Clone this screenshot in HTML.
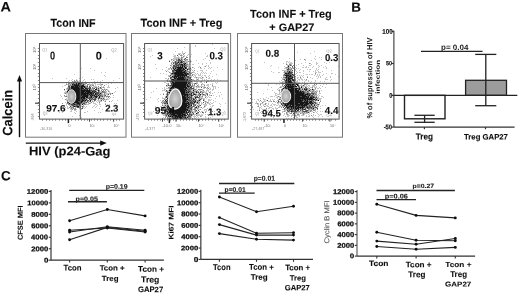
<!DOCTYPE html>
<html><head><meta charset="utf-8"><style>
html,body{margin:0;padding:0;background:#fff;}
body{width:520px;height:299px;overflow:hidden;}
svg{display:block;font-family:"Liberation Sans", sans-serif;}
</style></head><body>
<svg width="520" height="299" viewBox="0 0 520 299">
<defs><filter id="soft" x="-5%" y="-5%" width="110%" height="110%"><feGaussianBlur stdDeviation="0.35"/></filter><filter id="g" x="0" y="0" width="520" height="299" filterUnits="userSpaceOnUse"><feGaussianBlur stdDeviation="0.3"/></filter><radialGradient id="ov"><stop offset="0" stop-color="#d2d2d2"/><stop offset="1" stop-color="#a0a0a0"/></radialGradient></defs>
<rect width="520" height="299" fill="#fff"/>
<g filter="url(#g)">
<text x="0" y="0" font-size="13.802" font-weight="bold" fill="#111" textLength="10.465" lengthAdjust="spacingAndGlyphs" transform="translate(0.405,11.615) rotate(0.05)" stroke="#111" stroke-width="0.1" >A</text>
<text x="0" y="0" font-size="13.567" font-weight="bold" fill="#111" textLength="9.696" lengthAdjust="spacingAndGlyphs" transform="translate(351.262,11.643) rotate(0.05)" stroke="#111" stroke-width="0.1" >B</text>
<text x="0" y="0" font-size="13.213" font-weight="bold" fill="#111" textLength="9.784" lengthAdjust="spacingAndGlyphs" transform="translate(0.994,180.201) rotate(0.05)" stroke="#111" stroke-width="0.1" >C</text>
<text x="0" y="0" font-size="11.423" font-weight="bold" fill="#111" textLength="45.068" lengthAdjust="spacingAndGlyphs" transform="translate(50.593,26.856) rotate(0.05)" stroke="#111" stroke-width="0.1" >Tcon INF</text>
<text x="0" y="0" font-size="11.511" font-weight="bold" fill="#111" textLength="81.792" lengthAdjust="spacingAndGlyphs" transform="translate(140.552,26.779) rotate(0.05)" stroke="#111" stroke-width="0.1" >Tcon INF + Treg</text>
<text x="0" y="0" font-size="11.391" font-weight="bold" fill="#111" textLength="81.647" lengthAdjust="spacingAndGlyphs" transform="translate(250.102,17.652) rotate(0.05)" stroke="#111" stroke-width="0.1" >Tcon INF + Treg</text>
<text x="0" y="0" font-size="10.768" font-weight="bold" fill="#111" textLength="45.071" lengthAdjust="spacingAndGlyphs" transform="translate(269.350,30.868) rotate(0.05)" stroke="#111" stroke-width="0.1" >+ GAP27</text>
<rect x="25.5" y="33.5" width="100.5" height="103.69999999999999" stroke="#777" stroke-width="1" fill="none"/>
<g filter="url(#soft)">
<path d="M106 58h1v1h-1zM81 68h1v1h-1zM90 68h1v1h-1zM94 70h1v1h-1zM101 72h1v1h-1zM105 72h1v1h-1zM74 74h1v1h-1zM104 75h1v1h-1zM105 76h1v1h-1zM82 77h1v1h-1zM52 78h1v1h-1zM66 78h1v1h-1zM79 78h1v1h-1zM119 78h1v1h-1zM72 79h1v1h-1zM76 79h1v1h-1zM84 79h1v1h-1zM91 79h1v1h-1zM93 79h1v1h-1zM69 80h1v1h-1zM71 80h1v1h-1zM77 80h1v1h-1zM79 80h1v1h-1zM83 80h1v1h-1zM102 80h1v1h-1zM113 80h1v1h-1zM68 81h1v1h-1zM73 81h1v1h-1zM76 81h1v1h-1zM78 81h3v1h-3zM82 81h1v1h-1zM85 81h1v1h-1zM94 81h1v1h-1zM97 81h1v1h-1zM100 81h1v1h-1zM71 82h2v1h-2zM78 82h1v1h-1zM82 82h1v1h-1zM85 82h4v1h-4zM92 82h5v1h-5zM102 82h2v1h-2zM66 83h1v1h-1zM70 83h1v1h-1zM84 83h1v1h-1zM89 83h1v1h-1zM92 83h1v1h-1zM94 83h2v1h-2zM100 83h1v1h-1zM108 83h1v1h-1zM111 83h1v1h-1zM67 84h1v1h-1zM69 84h1v1h-1zM71 84h1v1h-1zM85 84h1v1h-1zM89 84h5v1h-5zM95 84h1v1h-1zM97 84h4v1h-4zM106 84h1v1h-1zM64 85h2v1h-2zM84 85h3v1h-3zM89 85h1v1h-1zM91 85h1v1h-1zM95 85h1v1h-1zM100 85h2v1h-2zM108 85h1v1h-1zM62 86h1v1h-1zM70 86h1v1h-1zM90 86h2v1h-2zM93 86h4v1h-4zM101 86h1v1h-1zM103 86h1v1h-1zM108 86h1v1h-1zM67 87h1v1h-1zM88 87h1v1h-1zM93 87h2v1h-2zM97 87h3v1h-3zM101 87h2v1h-2zM104 87h1v1h-1zM107 87h3v1h-3zM117 87h1v1h-1zM66 88h1v1h-1zM84 88h1v1h-1zM91 88h1v1h-1zM97 88h1v1h-1zM99 88h1v1h-1zM104 88h1v1h-1zM115 88h1v1h-1zM66 89h2v1h-2zM88 89h1v1h-1zM92 89h1v1h-1zM97 89h1v1h-1zM99 89h1v1h-1zM101 89h1v1h-1zM103 89h1v1h-1zM105 89h1v1h-1zM107 89h1v1h-1zM64 90h1v1h-1zM96 90h1v1h-1zM107 90h2v1h-2zM65 91h2v1h-2zM100 91h2v1h-2zM105 91h2v1h-2zM109 91h1v1h-1zM115 91h1v1h-1zM64 92h2v1h-2zM100 92h1v1h-1zM106 92h1v1h-1zM109 92h1v1h-1zM114 92h1v1h-1zM64 93h1v1h-1zM66 93h1v1h-1zM94 93h1v1h-1zM102 93h1v1h-1zM105 93h5v1h-5zM111 93h1v1h-1zM66 94h1v1h-1zM102 94h2v1h-2zM105 94h3v1h-3zM60 95h1v1h-1zM66 95h1v1h-1zM103 95h1v1h-1zM107 95h1v1h-1zM113 95h1v1h-1zM61 96h1v1h-1zM64 96h1v1h-1zM98 96h1v1h-1zM103 96h1v1h-1zM105 96h1v1h-1zM97 97h1v1h-1zM100 97h5v1h-5zM106 97h1v1h-1zM110 97h1v1h-1zM113 97h1v1h-1zM62 98h1v1h-1zM66 98h1v1h-1zM93 98h1v1h-1zM96 98h2v1h-2zM102 98h1v1h-1zM104 98h1v1h-1zM107 98h1v1h-1zM109 98h1v1h-1zM66 99h1v1h-1zM87 99h1v1h-1zM96 99h1v1h-1zM100 99h2v1h-2zM103 99h1v1h-1zM105 99h1v1h-1zM107 99h2v1h-2zM66 100h1v1h-1zM89 100h1v1h-1zM91 100h2v1h-2zM97 100h4v1h-4zM105 100h1v1h-1zM112 100h1v1h-1zM117 100h1v1h-1zM86 101h1v1h-1zM88 101h1v1h-1zM93 101h2v1h-2zM96 101h1v1h-1zM98 101h4v1h-4zM104 101h1v1h-1zM111 101h1v1h-1zM65 102h1v1h-1zM87 102h1v1h-1zM90 102h1v1h-1zM93 102h1v1h-1zM97 102h1v1h-1zM66 103h1v1h-1zM85 103h2v1h-2zM88 103h1v1h-1zM90 103h1v1h-1zM93 103h3v1h-3zM99 103h1v1h-1zM105 103h1v1h-1zM114 103h1v1h-1zM116 103h1v1h-1zM66 104h1v1h-1zM80 104h2v1h-2zM83 104h1v1h-1zM86 104h3v1h-3zM95 104h2v1h-2zM99 104h2v1h-2zM109 104h1v1h-1zM64 105h1v1h-1zM66 105h1v1h-1zM69 105h2v1h-2zM81 105h1v1h-1zM94 105h1v1h-1zM97 105h1v1h-1zM67 106h1v1h-1zM71 106h2v1h-2zM80 106h2v1h-2zM83 106h2v1h-2zM86 106h1v1h-1zM93 106h1v1h-1zM96 106h1v1h-1zM100 106h1v1h-1zM115 106h1v1h-1zM65 107h1v1h-1zM67 107h1v1h-1zM70 107h1v1h-1zM75 107h2v1h-2zM80 107h1v1h-1zM83 107h1v1h-1zM85 107h1v1h-1zM92 107h1v1h-1zM95 107h1v1h-1zM67 108h2v1h-2zM70 108h1v1h-1zM72 108h1v1h-1zM74 108h1v1h-1zM79 108h1v1h-1zM84 108h1v1h-1zM99 108h1v1h-1zM61 109h1v1h-1zM70 109h2v1h-2zM76 109h1v1h-1zM81 109h1v1h-1zM102 109h1v1h-1zM71 110h1v1h-1zM74 110h2v1h-2zM94 110h1v1h-1zM107 110h1v1h-1zM70 111h2v1h-2zM76 111h1v1h-1zM87 111h1v1h-1zM59 112h1v1h-1zM62 112h1v1h-1zM74 112h1v1h-1zM84 112h2v1h-2zM98 112h1v1h-1zM100 112h1v1h-1zM75 113h1v1h-1zM80 114h1v1h-1zM79 115h1v1h-1zM72 116h1v1h-1zM81 117h1v1h-1zM80 118h1v1h-1zM94 118h1v1h-1z" fill="#c4c4c4"/>
<path d="M74 80h1v1h-1zM76 80h1v1h-1zM72 81h1v1h-1zM74 81h2v1h-2zM77 81h1v1h-1zM74 82h1v1h-1zM76 82h1v1h-1zM79 82h3v1h-3zM83 82h2v1h-2zM68 83h2v1h-2zM71 83h2v1h-2zM74 83h2v1h-2zM77 83h1v1h-1zM82 83h2v1h-2zM85 83h2v1h-2zM66 84h1v1h-1zM68 84h1v1h-1zM70 84h1v1h-1zM81 84h2v1h-2zM84 84h1v1h-1zM87 84h2v1h-2zM101 84h2v1h-2zM68 85h4v1h-4zM87 85h1v1h-1zM90 85h1v1h-1zM92 85h2v1h-2zM104 85h1v1h-1zM85 86h2v1h-2zM98 86h1v1h-1zM68 87h1v1h-1zM70 87h1v1h-1zM83 87h1v1h-1zM86 87h2v1h-2zM92 87h1v1h-1zM95 87h2v1h-2zM103 87h1v1h-1zM67 88h2v1h-2zM70 88h1v1h-1zM92 88h2v1h-2zM100 88h2v1h-2zM90 89h2v1h-2zM93 89h1v1h-1zM98 89h1v1h-1zM102 89h1v1h-1zM104 89h1v1h-1zM106 89h1v1h-1zM67 90h1v1h-1zM92 90h1v1h-1zM95 90h1v1h-1zM97 90h1v1h-1zM99 90h1v1h-1zM101 90h1v1h-1zM103 90h1v1h-1zM105 90h1v1h-1zM91 91h1v1h-1zM96 91h1v1h-1zM99 91h1v1h-1zM103 91h2v1h-2zM108 91h1v1h-1zM66 92h1v1h-1zM95 92h1v1h-1zM99 92h1v1h-1zM101 92h5v1h-5zM65 93h1v1h-1zM99 93h1v1h-1zM101 93h1v1h-1zM104 93h1v1h-1zM110 93h1v1h-1zM94 94h1v1h-1zM98 94h1v1h-1zM100 94h2v1h-2zM104 94h1v1h-1zM110 94h1v1h-1zM64 95h1v1h-1zM89 95h1v1h-1zM95 95h1v1h-1zM97 95h1v1h-1zM99 95h1v1h-1zM101 95h2v1h-2zM104 95h1v1h-1zM65 96h1v1h-1zM88 96h2v1h-2zM92 96h2v1h-2zM100 96h2v1h-2zM104 96h1v1h-1zM106 96h4v1h-4zM85 97h1v1h-1zM88 97h1v1h-1zM92 97h1v1h-1zM94 97h1v1h-1zM98 97h1v1h-1zM108 97h1v1h-1zM86 98h2v1h-2zM91 98h1v1h-1zM94 98h1v1h-1zM99 98h2v1h-2zM65 99h1v1h-1zM67 99h1v1h-1zM85 99h1v1h-1zM90 99h1v1h-1zM92 99h1v1h-1zM98 99h1v1h-1zM102 99h1v1h-1zM104 99h1v1h-1zM106 99h1v1h-1zM86 100h1v1h-1zM95 100h1v1h-1zM103 100h1v1h-1zM67 101h2v1h-2zM83 101h1v1h-1zM85 101h1v1h-1zM89 101h1v1h-1zM92 101h1v1h-1zM105 101h1v1h-1zM109 101h1v1h-1zM69 102h1v1h-1zM82 102h4v1h-4zM88 102h1v1h-1zM91 102h1v1h-1zM99 102h1v1h-1zM62 103h1v1h-1zM67 103h2v1h-2zM75 103h1v1h-1zM81 103h2v1h-2zM89 103h1v1h-1zM68 104h3v1h-3zM84 104h2v1h-2zM105 104h1v1h-1zM71 105h1v1h-1zM74 105h2v1h-2zM78 105h1v1h-1zM83 105h1v1h-1zM79 106h1v1h-1zM69 107h1v1h-1zM71 107h3v1h-3zM79 107h1v1h-1zM82 107h1v1h-1zM71 108h1v1h-1zM73 108h1v1h-1zM75 108h1v1h-1zM81 108h1v1h-1zM72 109h1v1h-1zM74 109h2v1h-2z" fill="#8a8a8a"/>
<path d="M73 82h1v1h-1zM75 82h1v1h-1zM73 83h1v1h-1zM80 83h2v1h-2zM73 84h1v1h-1zM75 84h1v1h-1zM77 84h1v1h-1zM79 84h2v1h-2zM83 84h1v1h-1zM72 85h2v1h-2zM79 85h3v1h-3zM68 86h2v1h-2zM74 86h1v1h-1zM78 86h1v1h-1zM87 86h1v1h-1zM89 86h1v1h-1zM69 87h1v1h-1zM79 87h1v1h-1zM85 87h1v1h-1zM89 87h2v1h-2zM100 87h1v1h-1zM69 88h1v1h-1zM87 88h4v1h-4zM94 88h1v1h-1zM96 88h1v1h-1zM98 88h1v1h-1zM64 89h1v1h-1zM68 89h2v1h-2zM82 89h2v1h-2zM85 89h2v1h-2zM71 90h1v1h-1zM90 90h2v1h-2zM93 90h2v1h-2zM68 91h1v1h-1zM85 91h1v1h-1zM90 91h1v1h-1zM93 91h2v1h-2zM98 91h1v1h-1zM102 91h1v1h-1zM67 92h1v1h-1zM69 92h1v1h-1zM84 92h1v1h-1zM86 92h1v1h-1zM92 92h2v1h-2zM96 92h3v1h-3zM67 93h1v1h-1zM89 93h1v1h-1zM92 93h1v1h-1zM96 93h3v1h-3zM112 93h1v1h-1zM86 94h1v1h-1zM88 94h1v1h-1zM90 94h1v1h-1zM92 94h2v1h-2zM96 94h2v1h-2zM99 94h1v1h-1zM108 94h1v1h-1zM67 95h1v1h-1zM69 95h1v1h-1zM82 95h1v1h-1zM88 95h1v1h-1zM91 95h1v1h-1zM93 95h1v1h-1zM96 95h1v1h-1zM100 95h1v1h-1zM105 95h1v1h-1zM66 96h3v1h-3zM81 96h1v1h-1zM90 96h1v1h-1zM94 96h1v1h-1zM97 96h1v1h-1zM102 96h1v1h-1zM89 97h2v1h-2zM93 97h1v1h-1zM95 97h1v1h-1zM67 98h1v1h-1zM70 98h1v1h-1zM82 98h1v1h-1zM85 98h1v1h-1zM88 98h3v1h-3zM92 98h1v1h-1zM95 98h1v1h-1zM98 98h1v1h-1zM101 98h1v1h-1zM103 98h1v1h-1zM69 99h2v1h-2zM81 99h1v1h-1zM83 99h2v1h-2zM89 99h1v1h-1zM91 99h1v1h-1zM93 99h3v1h-3zM67 100h1v1h-1zM70 100h1v1h-1zM80 100h2v1h-2zM84 100h1v1h-1zM87 100h2v1h-2zM94 100h1v1h-1zM101 100h1v1h-1zM69 101h2v1h-2zM78 101h3v1h-3zM84 101h1v1h-1zM87 101h1v1h-1zM90 101h1v1h-1zM67 102h2v1h-2zM70 102h2v1h-2zM73 102h1v1h-1zM79 102h1v1h-1zM86 102h1v1h-1zM70 103h2v1h-2zM74 103h1v1h-1zM76 103h1v1h-1zM83 103h2v1h-2zM71 104h3v1h-3zM75 104h4v1h-4zM72 105h2v1h-2zM76 105h2v1h-2zM79 105h1v1h-1zM70 106h1v1h-1zM73 106h1v1h-1zM75 106h2v1h-2zM82 106h1v1h-1zM77 107h2v1h-2zM82 108h1v1h-1z" fill="#4f4f4f"/>
<path d="M76 83h1v1h-1zM78 83h2v1h-2zM72 84h1v1h-1zM74 84h1v1h-1zM76 84h1v1h-1zM78 84h1v1h-1zM74 85h5v1h-5zM82 85h2v1h-2zM71 86h3v1h-3zM75 86h3v1h-3zM79 86h6v1h-6zM71 87h8v1h-8zM80 87h3v1h-3zM84 87h1v1h-1zM71 88h13v1h-13zM85 88h2v1h-2zM70 89h12v1h-12zM84 89h1v1h-1zM87 89h1v1h-1zM89 89h1v1h-1zM95 89h2v1h-2zM68 90h3v1h-3zM72 90h18v1h-18zM98 90h1v1h-1zM67 91h1v1h-1zM69 91h16v1h-16zM86 91h4v1h-4zM92 91h1v1h-1zM95 91h1v1h-1zM68 92h1v1h-1zM70 92h14v1h-14zM85 92h1v1h-1zM87 92h5v1h-5zM94 92h1v1h-1zM68 93h21v1h-21zM90 93h2v1h-2zM93 93h1v1h-1zM95 93h1v1h-1zM100 93h1v1h-1zM67 94h19v1h-19zM87 94h1v1h-1zM89 94h1v1h-1zM91 94h1v1h-1zM95 94h1v1h-1zM68 95h1v1h-1zM70 95h12v1h-12zM83 95h5v1h-5zM90 95h1v1h-1zM92 95h1v1h-1zM94 95h1v1h-1zM98 95h1v1h-1zM69 96h12v1h-12zM82 96h6v1h-6zM91 96h1v1h-1zM95 96h2v1h-2zM99 96h1v1h-1zM67 97h18v1h-18zM86 97h2v1h-2zM91 97h1v1h-1zM96 97h1v1h-1zM99 97h1v1h-1zM68 98h2v1h-2zM71 98h11v1h-11zM83 98h2v1h-2zM68 99h1v1h-1zM71 99h10v1h-10zM82 99h1v1h-1zM86 99h1v1h-1zM68 100h2v1h-2zM71 100h9v1h-9zM82 100h2v1h-2zM85 100h1v1h-1zM90 100h1v1h-1zM71 101h7v1h-7zM81 101h2v1h-2zM72 102h1v1h-1zM74 102h5v1h-5zM80 102h2v1h-2zM69 103h1v1h-1zM72 103h2v1h-2zM77 103h4v1h-4zM74 104h1v1h-1zM79 104h1v1h-1zM82 104h1v1h-1zM74 106h1v1h-1zM77 106h2v1h-2z" fill="#141414"/>
</g>
<rect x="39.5" y="43.5" width="84.1" height="75.6" stroke="#555" stroke-width="1" fill="none"/>
<line x1="80.3" y1="43.5" x2="80.3" y2="119.1" stroke="#555" stroke-width="1"/>
<line x1="39.5" y1="82.6" x2="123.6" y2="82.6" stroke="#555" stroke-width="1"/>
<line x1="37.9" y1="48.5" x2="39.5" y2="48.5" stroke="#666" stroke-width="0.8"/>
<line x1="37.9" y1="51.5" x2="39.5" y2="51.5" stroke="#666" stroke-width="0.8"/>
<line x1="37.9" y1="55.5" x2="39.5" y2="55.5" stroke="#666" stroke-width="0.8"/>
<line x1="37.9" y1="58.5" x2="39.5" y2="58.5" stroke="#666" stroke-width="0.8"/>
<line x1="37.9" y1="62.5" x2="39.5" y2="62.5" stroke="#666" stroke-width="0.8"/>
<line x1="37.9" y1="66.5" x2="39.5" y2="66.5" stroke="#666" stroke-width="0.8"/>
<line x1="37.9" y1="69.5" x2="39.5" y2="69.5" stroke="#666" stroke-width="0.8"/>
<line x1="37.9" y1="73.5" x2="39.5" y2="73.5" stroke="#666" stroke-width="0.8"/>
<line x1="37.9" y1="76.5" x2="39.5" y2="76.5" stroke="#666" stroke-width="0.8"/>
<line x1="37.9" y1="80.5" x2="39.5" y2="80.5" stroke="#666" stroke-width="0.8"/>
<line x1="37.9" y1="84.5" x2="39.5" y2="84.5" stroke="#666" stroke-width="0.8"/>
<line x1="37.9" y1="87.5" x2="39.5" y2="87.5" stroke="#666" stroke-width="0.8"/>
<line x1="37.9" y1="91.5" x2="39.5" y2="91.5" stroke="#666" stroke-width="0.8"/>
<line x1="37.9" y1="94.5" x2="39.5" y2="94.5" stroke="#666" stroke-width="0.8"/>
<line x1="37.9" y1="98.5" x2="39.5" y2="98.5" stroke="#666" stroke-width="0.8"/>
<line x1="37.9" y1="102.5" x2="39.5" y2="102.5" stroke="#666" stroke-width="0.8"/>
<line x1="37.9" y1="105.5" x2="39.5" y2="105.5" stroke="#666" stroke-width="0.8"/>
<line x1="37.9" y1="109.5" x2="39.5" y2="109.5" stroke="#666" stroke-width="0.8"/>
<line x1="37.9" y1="112.5" x2="39.5" y2="112.5" stroke="#666" stroke-width="0.8"/>
<line x1="37.9" y1="116.5" x2="39.5" y2="116.5" stroke="#666" stroke-width="0.8"/>
<line x1="42.5" y1="119.1" x2="42.5" y2="120.69999999999999" stroke="#666" stroke-width="0.8"/>
<line x1="46.5" y1="119.1" x2="46.5" y2="120.69999999999999" stroke="#666" stroke-width="0.8"/>
<line x1="49.5" y1="119.1" x2="49.5" y2="120.69999999999999" stroke="#666" stroke-width="0.8"/>
<line x1="52.5" y1="119.1" x2="52.5" y2="120.69999999999999" stroke="#666" stroke-width="0.8"/>
<line x1="55.5" y1="119.1" x2="55.5" y2="120.69999999999999" stroke="#666" stroke-width="0.8"/>
<line x1="59.5" y1="119.1" x2="59.5" y2="120.69999999999999" stroke="#666" stroke-width="0.8"/>
<line x1="62.5" y1="119.1" x2="62.5" y2="120.69999999999999" stroke="#666" stroke-width="0.8"/>
<line x1="65.5" y1="119.1" x2="65.5" y2="120.69999999999999" stroke="#666" stroke-width="0.8"/>
<line x1="68.5" y1="119.1" x2="68.5" y2="120.69999999999999" stroke="#666" stroke-width="0.8"/>
<line x1="71.5" y1="119.1" x2="71.5" y2="120.69999999999999" stroke="#666" stroke-width="0.8"/>
<line x1="75.5" y1="119.1" x2="75.5" y2="120.69999999999999" stroke="#666" stroke-width="0.8"/>
<line x1="78.5" y1="119.1" x2="78.5" y2="120.69999999999999" stroke="#666" stroke-width="0.8"/>
<line x1="81.5" y1="119.1" x2="81.5" y2="120.69999999999999" stroke="#666" stroke-width="0.8"/>
<line x1="84.5" y1="119.1" x2="84.5" y2="120.69999999999999" stroke="#666" stroke-width="0.8"/>
<line x1="87.5" y1="119.1" x2="87.5" y2="120.69999999999999" stroke="#666" stroke-width="0.8"/>
<line x1="91.5" y1="119.1" x2="91.5" y2="120.69999999999999" stroke="#666" stroke-width="0.8"/>
<line x1="94.5" y1="119.1" x2="94.5" y2="120.69999999999999" stroke="#666" stroke-width="0.8"/>
<line x1="97.5" y1="119.1" x2="97.5" y2="120.69999999999999" stroke="#666" stroke-width="0.8"/>
<line x1="100.5" y1="119.1" x2="100.5" y2="120.69999999999999" stroke="#666" stroke-width="0.8"/>
<line x1="103.5" y1="119.1" x2="103.5" y2="120.69999999999999" stroke="#666" stroke-width="0.8"/>
<line x1="107.5" y1="119.1" x2="107.5" y2="120.69999999999999" stroke="#666" stroke-width="0.8"/>
<line x1="110.5" y1="119.1" x2="110.5" y2="120.69999999999999" stroke="#666" stroke-width="0.8"/>
<line x1="113.5" y1="119.1" x2="113.5" y2="120.69999999999999" stroke="#666" stroke-width="0.8"/>
<line x1="116.5" y1="119.1" x2="116.5" y2="120.69999999999999" stroke="#666" stroke-width="0.8"/>
<line x1="119.5" y1="119.1" x2="119.5" y2="120.69999999999999" stroke="#666" stroke-width="0.8"/>
<text x="0" y="0" font-size="4.2" fill="#666" text-anchor="middle" transform="translate(36.3,49.8) rotate(-90)">10⁵</text>
<text x="0" y="0" font-size="4.2" fill="#666" text-anchor="middle" transform="translate(36.3,66.8) rotate(-90)">10⁴</text>
<text x="0" y="0" font-size="4.2" fill="#666" text-anchor="middle" transform="translate(36.3,87.4) rotate(-90)">10³</text>
<text x="0" y="0" font-size="3.6" fill="#777" text-anchor="middle" transform="translate(33.9,117.2) rotate(-90)">-896</text>
<line x1="35.0" y1="103.2" x2="39.0" y2="103.2" stroke="#444" stroke-width="1.2"/>
<text x="68.4" y="126.6" font-size="3.6" font-weight="normal" text-anchor="start" fill="#666" text-anchor="middle">0</text>
<line x1="68.4" y1="119.1" x2="68.4" y2="123.1" stroke="#222" stroke-width="1.5"/>
<text x="89.5" y="126.6" font-size="3.6" font-weight="normal" text-anchor="start" fill="#666" text-anchor="middle">10³</text>
<line x1="89.5" y1="119.1" x2="89.5" y2="121.69999999999999" stroke="#444" stroke-width="1.0"/>
<text x="113.6" y="126.6" font-size="3.6" font-weight="normal" text-anchor="start" fill="#666" text-anchor="middle">10⁴</text>
<line x1="113.6" y1="119.1" x2="113.6" y2="121.69999999999999" stroke="#444" stroke-width="1.0"/>
<text x="40.0" y="130.2" font-size="3.6" font-weight="normal" text-anchor="start" fill="#888" text-anchor="middle">-30,316</text>
<rect x="131.5" y="33.5" width="99.1" height="103.69999999999999" stroke="#777" stroke-width="1" fill="none"/>
<g filter="url(#soft)">
<path d="M212 44h1v1h-1zM195 45h1v1h-1zM195 46h1v1h-1zM184 47h1v1h-1zM177 48h1v1h-1zM214 48h1v1h-1zM175 51h1v1h-1zM182 51h1v1h-1zM182 52h1v1h-1zM185 52h1v1h-1zM178 53h3v1h-3zM182 53h2v1h-2zM205 53h1v1h-1zM173 54h1v1h-1zM178 54h1v1h-1zM181 54h1v1h-1zM188 54h1v1h-1zM191 54h1v1h-1zM152 55h1v1h-1zM174 55h2v1h-2zM182 55h1v1h-1zM184 55h1v1h-1zM187 55h1v1h-1zM207 55h1v1h-1zM150 56h1v1h-1zM173 56h3v1h-3zM178 56h1v1h-1zM181 56h1v1h-1zM184 56h1v1h-1zM186 56h1v1h-1zM190 56h1v1h-1zM206 56h2v1h-2zM174 57h6v1h-6zM183 57h1v1h-1zM173 58h5v1h-5zM179 58h2v1h-2zM182 58h1v1h-1zM184 58h1v1h-1zM205 58h1v1h-1zM172 59h4v1h-4zM177 59h1v1h-1zM180 59h1v1h-1zM182 59h2v1h-2zM185 59h1v1h-1zM189 59h1v1h-1zM203 59h1v1h-1zM220 59h1v1h-1zM169 60h1v1h-1zM171 60h1v1h-1zM174 60h1v1h-1zM184 60h1v1h-1zM186 60h2v1h-2zM190 60h1v1h-1zM196 60h1v1h-1zM209 60h1v1h-1zM172 61h1v1h-1zM174 61h1v1h-1zM177 61h1v1h-1zM185 61h3v1h-3zM189 61h1v1h-1zM191 61h1v1h-1zM171 62h2v1h-2zM183 62h1v1h-1zM185 62h1v1h-1zM187 62h1v1h-1zM190 62h1v1h-1zM210 62h1v1h-1zM174 63h1v1h-1zM178 63h1v1h-1zM182 63h1v1h-1zM186 63h2v1h-2zM189 63h1v1h-1zM198 63h1v1h-1zM202 63h1v1h-1zM206 63h1v1h-1zM210 63h1v1h-1zM155 64h1v1h-1zM171 64h4v1h-4zM188 64h2v1h-2zM192 64h2v1h-2zM202 64h1v1h-1zM171 65h1v1h-1zM187 65h2v1h-2zM206 65h1v1h-1zM208 65h1v1h-1zM171 66h2v1h-2zM188 66h2v1h-2zM199 66h1v1h-1zM204 66h1v1h-1zM208 66h1v1h-1zM166 67h1v1h-1zM188 67h3v1h-3zM193 67h1v1h-1zM198 67h1v1h-1zM209 67h1v1h-1zM211 67h1v1h-1zM217 67h1v1h-1zM156 68h1v1h-1zM168 68h3v1h-3zM172 68h1v1h-1zM187 68h1v1h-1zM189 68h1v1h-1zM194 68h1v1h-1zM200 68h2v1h-2zM204 68h1v1h-1zM208 68h1v1h-1zM210 68h1v1h-1zM162 69h1v1h-1zM168 69h2v1h-2zM172 69h1v1h-1zM185 69h2v1h-2zM190 69h2v1h-2zM222 69h1v1h-1zM165 70h1v1h-1zM167 70h1v1h-1zM192 70h1v1h-1zM200 70h3v1h-3zM206 70h1v1h-1zM213 70h1v1h-1zM168 71h1v1h-1zM189 71h2v1h-2zM193 71h1v1h-1zM197 71h1v1h-1zM202 71h1v1h-1zM211 71h1v1h-1zM170 72h1v1h-1zM187 72h2v1h-2zM190 72h2v1h-2zM193 72h2v1h-2zM201 72h1v1h-1zM203 72h1v1h-1zM205 72h1v1h-1zM160 73h1v1h-1zM163 73h1v1h-1zM170 73h1v1h-1zM189 73h1v1h-1zM195 73h1v1h-1zM197 73h1v1h-1zM200 73h1v1h-1zM202 73h1v1h-1zM204 73h1v1h-1zM206 73h1v1h-1zM210 73h1v1h-1zM166 74h1v1h-1zM170 74h1v1h-1zM189 74h2v1h-2zM193 74h2v1h-2zM196 74h1v1h-1zM198 74h1v1h-1zM200 74h1v1h-1zM216 74h1v1h-1zM168 75h2v1h-2zM171 75h2v1h-2zM187 75h5v1h-5zM194 75h2v1h-2zM198 75h3v1h-3zM202 75h1v1h-1zM204 75h2v1h-2zM209 75h1v1h-1zM168 76h1v1h-1zM170 76h2v1h-2zM191 76h1v1h-1zM193 76h1v1h-1zM195 76h1v1h-1zM201 76h1v1h-1zM205 76h1v1h-1zM208 76h1v1h-1zM212 76h1v1h-1zM150 77h1v1h-1zM191 77h1v1h-1zM194 77h2v1h-2zM197 77h4v1h-4zM203 77h1v1h-1zM209 77h1v1h-1zM165 78h2v1h-2zM172 78h2v1h-2zM196 78h1v1h-1zM198 78h1v1h-1zM200 78h3v1h-3zM208 78h2v1h-2zM167 79h2v1h-2zM170 79h1v1h-1zM189 79h1v1h-1zM192 79h2v1h-2zM196 79h1v1h-1zM198 79h1v1h-1zM202 79h1v1h-1zM204 79h1v1h-1zM206 79h1v1h-1zM211 79h1v1h-1zM214 79h1v1h-1zM217 79h1v1h-1zM166 80h1v1h-1zM169 80h2v1h-2zM191 80h4v1h-4zM196 80h1v1h-1zM198 80h1v1h-1zM202 80h1v1h-1zM204 80h1v1h-1zM207 80h2v1h-2zM210 80h1v1h-1zM213 80h1v1h-1zM220 80h1v1h-1zM168 81h1v1h-1zM190 81h1v1h-1zM192 81h1v1h-1zM194 81h4v1h-4zM199 81h2v1h-2zM207 81h2v1h-2zM211 81h1v1h-1zM164 82h2v1h-2zM191 82h2v1h-2zM196 82h2v1h-2zM200 82h2v1h-2zM204 82h1v1h-1zM215 82h1v1h-1zM217 82h1v1h-1zM166 83h2v1h-2zM170 83h1v1h-1zM191 83h3v1h-3zM197 83h1v1h-1zM202 83h1v1h-1zM212 83h1v1h-1zM216 83h1v1h-1zM167 84h1v1h-1zM196 84h1v1h-1zM198 84h1v1h-1zM202 84h3v1h-3zM207 84h2v1h-2zM210 84h1v1h-1zM212 84h1v1h-1zM167 85h1v1h-1zM191 85h1v1h-1zM193 85h1v1h-1zM198 85h1v1h-1zM201 85h1v1h-1zM206 85h3v1h-3zM166 86h2v1h-2zM169 86h1v1h-1zM193 86h3v1h-3zM197 86h1v1h-1zM199 86h6v1h-6zM208 86h1v1h-1zM212 86h4v1h-4zM164 87h1v1h-1zM189 87h1v1h-1zM194 87h1v1h-1zM196 87h4v1h-4zM203 87h1v1h-1zM209 87h1v1h-1zM213 87h1v1h-1zM215 87h1v1h-1zM218 87h1v1h-1zM156 88h1v1h-1zM162 88h1v1h-1zM164 88h1v1h-1zM166 88h3v1h-3zM194 88h1v1h-1zM196 88h1v1h-1zM203 88h2v1h-2zM206 88h2v1h-2zM210 88h1v1h-1zM213 88h1v1h-1zM215 88h1v1h-1zM164 89h2v1h-2zM192 89h1v1h-1zM196 89h1v1h-1zM202 89h1v1h-1zM207 89h1v1h-1zM209 89h2v1h-2zM212 89h2v1h-2zM162 90h3v1h-3zM167 90h2v1h-2zM190 90h3v1h-3zM194 90h3v1h-3zM199 90h2v1h-2zM202 90h1v1h-1zM206 90h3v1h-3zM212 90h1v1h-1zM153 91h1v1h-1zM165 91h1v1h-1zM168 91h1v1h-1zM192 91h1v1h-1zM197 91h1v1h-1zM202 91h3v1h-3zM206 91h1v1h-1zM208 91h1v1h-1zM210 91h1v1h-1zM151 92h1v1h-1zM189 92h1v1h-1zM194 92h2v1h-2zM199 92h1v1h-1zM201 92h1v1h-1zM204 92h3v1h-3zM210 92h1v1h-1zM214 92h1v1h-1zM218 92h1v1h-1zM220 92h1v1h-1zM163 93h1v1h-1zM166 93h1v1h-1zM168 93h1v1h-1zM190 93h1v1h-1zM192 93h1v1h-1zM195 93h2v1h-2zM198 93h1v1h-1zM201 93h1v1h-1zM205 93h1v1h-1zM210 93h1v1h-1zM212 93h1v1h-1zM160 94h1v1h-1zM192 94h1v1h-1zM197 94h1v1h-1zM201 94h1v1h-1zM205 94h2v1h-2zM209 94h1v1h-1zM221 94h1v1h-1zM166 95h1v1h-1zM168 95h1v1h-1zM189 95h1v1h-1zM196 95h2v1h-2zM202 95h3v1h-3zM209 95h2v1h-2zM213 95h1v1h-1zM219 95h1v1h-1zM165 96h1v1h-1zM168 96h1v1h-1zM190 96h1v1h-1zM192 96h1v1h-1zM200 96h2v1h-2zM205 96h2v1h-2zM208 96h1v1h-1zM216 96h1v1h-1zM219 96h1v1h-1zM150 97h1v1h-1zM162 97h1v1h-1zM192 97h3v1h-3zM200 97h3v1h-3zM207 97h1v1h-1zM209 97h2v1h-2zM158 98h1v1h-1zM162 98h4v1h-4zM190 98h1v1h-1zM194 98h1v1h-1zM196 98h1v1h-1zM198 98h1v1h-1zM200 98h1v1h-1zM202 98h3v1h-3zM206 98h1v1h-1zM215 98h1v1h-1zM222 98h1v1h-1zM146 99h1v1h-1zM157 99h1v1h-1zM165 99h1v1h-1zM190 99h1v1h-1zM192 99h1v1h-1zM195 99h1v1h-1zM198 99h1v1h-1zM201 99h1v1h-1zM204 99h1v1h-1zM208 99h2v1h-2zM211 99h1v1h-1zM160 100h1v1h-1zM162 100h1v1h-1zM166 100h1v1h-1zM196 100h1v1h-1zM200 100h1v1h-1zM204 100h1v1h-1zM208 100h3v1h-3zM213 100h1v1h-1zM158 101h1v1h-1zM163 101h1v1h-1zM196 101h1v1h-1zM199 101h2v1h-2zM204 101h1v1h-1zM206 101h1v1h-1zM208 101h1v1h-1zM215 101h1v1h-1zM162 102h1v1h-1zM198 102h1v1h-1zM201 102h1v1h-1zM205 102h2v1h-2zM208 102h1v1h-1zM210 102h1v1h-1zM213 102h1v1h-1zM163 103h1v1h-1zM196 103h1v1h-1zM199 103h1v1h-1zM201 103h2v1h-2zM207 103h3v1h-3zM211 103h2v1h-2zM219 103h1v1h-1zM225 103h1v1h-1zM162 104h1v1h-1zM164 104h3v1h-3zM192 104h1v1h-1zM196 104h1v1h-1zM198 104h2v1h-2zM201 104h1v1h-1zM203 104h4v1h-4zM209 104h2v1h-2zM220 104h1v1h-1zM163 105h2v1h-2zM166 105h1v1h-1zM198 105h1v1h-1zM204 105h3v1h-3zM212 105h2v1h-2zM155 106h1v1h-1zM160 106h2v1h-2zM163 106h1v1h-1zM165 106h1v1h-1zM197 106h1v1h-1zM199 106h1v1h-1zM205 106h1v1h-1zM210 106h1v1h-1zM212 106h1v1h-1zM220 106h1v1h-1zM163 107h1v1h-1zM165 107h2v1h-2zM190 107h1v1h-1zM194 107h1v1h-1zM197 107h1v1h-1zM199 107h2v1h-2zM203 107h2v1h-2zM211 107h1v1h-1zM161 108h2v1h-2zM164 108h1v1h-1zM192 108h1v1h-1zM196 108h1v1h-1zM198 108h1v1h-1zM202 108h1v1h-1zM207 108h1v1h-1zM209 108h2v1h-2zM160 109h2v1h-2zM189 109h1v1h-1zM192 109h1v1h-1zM197 109h3v1h-3zM204 109h3v1h-3zM209 109h1v1h-1zM211 109h1v1h-1zM217 109h1v1h-1zM161 110h1v1h-1zM163 110h2v1h-2zM190 110h1v1h-1zM192 110h1v1h-1zM194 110h1v1h-1zM204 110h1v1h-1zM206 110h1v1h-1zM208 110h1v1h-1zM211 110h1v1h-1zM153 111h1v1h-1zM162 111h1v1h-1zM165 111h1v1h-1zM187 111h1v1h-1zM192 111h3v1h-3zM196 111h2v1h-2zM201 111h2v1h-2zM205 111h2v1h-2zM214 111h1v1h-1zM224 111h1v1h-1zM163 112h2v1h-2zM166 112h1v1h-1zM189 112h1v1h-1zM191 112h1v1h-1zM193 112h3v1h-3zM200 112h1v1h-1zM209 112h1v1h-1zM164 113h1v1h-1zM190 113h3v1h-3zM198 113h1v1h-1zM203 113h1v1h-1zM211 113h1v1h-1zM214 113h1v1h-1zM162 114h3v1h-3zM186 114h1v1h-1zM194 114h6v1h-6zM201 114h2v1h-2zM205 114h1v1h-1zM207 114h1v1h-1zM211 114h1v1h-1zM157 115h1v1h-1zM163 115h2v1h-2zM167 115h1v1h-1zM187 115h1v1h-1zM190 115h1v1h-1zM192 115h1v1h-1zM194 115h1v1h-1zM197 115h6v1h-6zM217 115h1v1h-1zM222 115h1v1h-1zM165 116h1v1h-1zM167 116h1v1h-1zM186 116h1v1h-1zM191 116h1v1h-1zM193 116h3v1h-3zM197 116h1v1h-1zM201 116h1v1h-1zM205 116h1v1h-1zM212 116h1v1h-1zM163 117h1v1h-1zM168 117h1v1h-1zM170 117h1v1h-1zM189 117h3v1h-3zM194 117h1v1h-1zM196 117h1v1h-1zM198 117h1v1h-1zM205 117h1v1h-1zM208 117h1v1h-1zM210 117h1v1h-1zM164 118h1v1h-1zM187 118h1v1h-1zM189 118h2v1h-2zM194 118h2v1h-2zM201 118h1v1h-1z" fill="#c4c4c4"/>
<path d="M184 53h1v1h-1zM179 54h1v1h-1zM183 54h1v1h-1zM180 55h2v1h-2zM183 56h1v1h-1zM181 57h2v1h-2zM186 57h2v1h-2zM178 58h1v1h-1zM181 58h1v1h-1zM171 59h1v1h-1zM176 59h1v1h-1zM186 59h2v1h-2zM173 60h1v1h-1zM176 60h2v1h-2zM181 60h2v1h-2zM185 60h1v1h-1zM176 61h1v1h-1zM179 61h2v1h-2zM182 61h1v1h-1zM184 61h1v1h-1zM188 61h1v1h-1zM190 61h1v1h-1zM173 62h2v1h-2zM176 62h1v1h-1zM179 62h1v1h-1zM184 62h1v1h-1zM186 62h1v1h-1zM171 63h1v1h-1zM180 63h2v1h-2zM177 64h1v1h-1zM183 64h1v1h-1zM185 64h3v1h-3zM170 65h1v1h-1zM175 65h1v1h-1zM179 65h1v1h-1zM186 65h1v1h-1zM177 66h1v1h-1zM179 66h1v1h-1zM181 66h1v1h-1zM183 66h1v1h-1zM185 66h3v1h-3zM205 66h1v1h-1zM170 67h1v1h-1zM172 67h1v1h-1zM174 67h1v1h-1zM183 67h1v1h-1zM192 67h1v1h-1zM200 67h1v1h-1zM171 68h1v1h-1zM174 68h1v1h-1zM176 68h1v1h-1zM184 68h1v1h-1zM188 68h1v1h-1zM171 69h1v1h-1zM173 69h1v1h-1zM175 69h1v1h-1zM188 69h2v1h-2zM184 70h1v1h-1zM186 70h2v1h-2zM190 70h1v1h-1zM194 70h1v1h-1zM166 71h1v1h-1zM174 71h2v1h-2zM186 71h3v1h-3zM169 72h1v1h-1zM172 72h1v1h-1zM192 72h1v1h-1zM190 73h2v1h-2zM171 74h3v1h-3zM192 74h1v1h-1zM173 75h1v1h-1zM192 75h1v1h-1zM169 76h1v1h-1zM185 76h1v1h-1zM172 77h1v1h-1zM177 77h1v1h-1zM186 77h1v1h-1zM189 77h1v1h-1zM196 77h1v1h-1zM202 77h1v1h-1zM206 77h1v1h-1zM168 78h1v1h-1zM171 78h1v1h-1zM186 78h4v1h-4zM188 79h1v1h-1zM190 79h1v1h-1zM197 79h1v1h-1zM167 80h1v1h-1zM188 80h1v1h-1zM190 80h1v1h-1zM167 81h1v1h-1zM169 81h1v1h-1zM187 81h1v1h-1zM189 81h1v1h-1zM201 81h1v1h-1zM206 81h1v1h-1zM170 82h2v1h-2zM190 82h1v1h-1zM168 83h1v1h-1zM187 83h1v1h-1zM190 83h1v1h-1zM194 83h1v1h-1zM196 83h1v1h-1zM168 84h1v1h-1zM188 84h1v1h-1zM192 84h1v1h-1zM194 84h1v1h-1zM201 84h1v1h-1zM169 85h1v1h-1zM189 85h1v1h-1zM192 85h1v1h-1zM194 85h1v1h-1zM197 85h1v1h-1zM204 85h1v1h-1zM212 85h1v1h-1zM170 86h2v1h-2zM186 86h1v1h-1zM192 86h1v1h-1zM196 86h1v1h-1zM198 86h1v1h-1zM168 87h3v1h-3zM187 87h1v1h-1zM193 87h1v1h-1zM204 87h2v1h-2zM207 87h1v1h-1zM169 88h1v1h-1zM188 88h1v1h-1zM190 88h1v1h-1zM208 88h1v1h-1zM169 89h1v1h-1zM171 89h1v1h-1zM186 89h1v1h-1zM190 89h2v1h-2zM193 89h3v1h-3zM198 89h4v1h-4zM187 90h1v1h-1zM189 90h1v1h-1zM197 90h1v1h-1zM203 90h1v1h-1zM166 91h2v1h-2zM169 91h1v1h-1zM190 91h2v1h-2zM193 91h3v1h-3zM198 91h1v1h-1zM200 91h2v1h-2zM190 92h2v1h-2zM197 92h1v1h-1zM202 92h2v1h-2zM209 92h1v1h-1zM170 93h1v1h-1zM188 93h2v1h-2zM194 93h1v1h-1zM202 93h1v1h-1zM206 93h2v1h-2zM163 94h1v1h-1zM166 94h1v1h-1zM168 94h2v1h-2zM196 94h1v1h-1zM198 94h2v1h-2zM202 94h1v1h-1zM204 94h1v1h-1zM190 95h1v1h-1zM193 95h1v1h-1zM195 95h1v1h-1zM198 95h3v1h-3zM205 95h1v1h-1zM207 95h1v1h-1zM211 95h1v1h-1zM167 96h1v1h-1zM188 96h1v1h-1zM194 96h3v1h-3zM202 96h1v1h-1zM165 97h1v1h-1zM167 97h1v1h-1zM199 97h1v1h-1zM205 97h1v1h-1zM170 98h1v1h-1zM188 98h1v1h-1zM192 98h1v1h-1zM199 98h1v1h-1zM201 98h1v1h-1zM164 99h1v1h-1zM167 99h1v1h-1zM169 99h1v1h-1zM196 99h1v1h-1zM199 99h1v1h-1zM203 99h1v1h-1zM163 100h1v1h-1zM187 100h1v1h-1zM191 100h1v1h-1zM193 100h2v1h-2zM197 100h2v1h-2zM162 101h1v1h-1zM164 101h2v1h-2zM188 101h3v1h-3zM192 101h1v1h-1zM197 101h2v1h-2zM205 101h1v1h-1zM161 102h1v1h-1zM163 102h3v1h-3zM189 102h1v1h-1zM193 102h1v1h-1zM195 102h2v1h-2zM199 102h1v1h-1zM207 102h1v1h-1zM162 103h1v1h-1zM166 103h1v1h-1zM168 103h1v1h-1zM194 103h1v1h-1zM197 103h2v1h-2zM205 103h1v1h-1zM167 104h1v1h-1zM187 104h1v1h-1zM190 104h1v1h-1zM194 104h2v1h-2zM162 105h1v1h-1zM190 105h1v1h-1zM193 105h2v1h-2zM197 105h1v1h-1zM199 105h1v1h-1zM164 106h1v1h-1zM166 106h1v1h-1zM187 106h1v1h-1zM190 106h3v1h-3zM194 106h1v1h-1zM196 106h1v1h-1zM204 106h1v1h-1zM189 107h1v1h-1zM192 107h1v1h-1zM198 107h1v1h-1zM201 107h1v1h-1zM163 108h1v1h-1zM165 108h2v1h-2zM189 108h1v1h-1zM194 108h2v1h-2zM197 108h1v1h-1zM188 109h1v1h-1zM190 109h1v1h-1zM193 109h3v1h-3zM200 109h1v1h-1zM167 110h1v1h-1zM191 110h1v1h-1zM195 110h1v1h-1zM164 111h1v1h-1zM168 111h1v1h-1zM190 111h2v1h-2zM195 111h1v1h-1zM199 111h1v1h-1zM212 111h1v1h-1zM165 112h1v1h-1zM167 112h1v1h-1zM197 112h1v1h-1zM203 112h1v1h-1zM205 112h1v1h-1zM163 113h1v1h-1zM165 113h2v1h-2zM168 113h1v1h-1zM197 113h1v1h-1zM165 114h2v1h-2zM168 114h1v1h-1zM188 114h1v1h-1zM190 114h1v1h-1zM192 114h2v1h-2zM209 114h1v1h-1zM165 115h1v1h-1zM169 115h1v1h-1zM189 115h1v1h-1zM196 115h1v1h-1zM208 115h1v1h-1zM166 116h1v1h-1zM187 116h1v1h-1zM190 116h1v1h-1zM200 116h1v1h-1zM165 117h1v1h-1zM167 117h1v1h-1zM169 117h1v1h-1zM171 117h1v1h-1zM186 117h1v1h-1zM188 117h1v1h-1zM162 118h1v1h-1zM167 118h2v1h-2zM171 118h1v1h-1zM183 118h1v1h-1zM188 118h1v1h-1zM192 118h1v1h-1zM208 118h1v1h-1z" fill="#8a8a8a"/>
<path d="M177 55h1v1h-1zM185 58h1v1h-1zM178 59h2v1h-2zM181 59h1v1h-1zM184 59h1v1h-1zM178 60h3v1h-3zM169 61h1v1h-1zM175 61h1v1h-1zM178 61h1v1h-1zM183 61h1v1h-1zM175 62h1v1h-1zM177 62h1v1h-1zM180 62h1v1h-1zM182 62h1v1h-1zM173 63h1v1h-1zM175 63h3v1h-3zM179 63h1v1h-1zM183 63h2v1h-2zM175 64h2v1h-2zM178 64h3v1h-3zM173 65h2v1h-2zM176 65h3v1h-3zM180 65h2v1h-2zM183 65h3v1h-3zM173 66h4v1h-4zM178 66h1v1h-1zM173 67h1v1h-1zM175 67h2v1h-2zM184 67h1v1h-1zM186 67h1v1h-1zM177 68h1v1h-1zM182 68h1v1h-1zM186 68h1v1h-1zM190 68h1v1h-1zM176 69h1v1h-1zM181 69h2v1h-2zM172 70h3v1h-3zM183 70h1v1h-1zM172 71h2v1h-2zM182 71h2v1h-2zM185 71h1v1h-1zM173 72h2v1h-2zM185 72h2v1h-2zM189 72h1v1h-1zM171 73h1v1h-1zM173 73h1v1h-1zM183 73h1v1h-1zM186 73h1v1h-1zM188 73h1v1h-1zM174 74h1v1h-1zM184 74h1v1h-1zM187 74h2v1h-2zM170 75h1v1h-1zM174 75h1v1h-1zM176 75h1v1h-1zM173 76h1v1h-1zM179 76h1v1h-1zM181 76h1v1h-1zM183 76h1v1h-1zM186 76h3v1h-3zM170 77h2v1h-2zM173 77h1v1h-1zM175 77h1v1h-1zM184 77h2v1h-2zM187 77h2v1h-2zM190 77h1v1h-1zM170 78h1v1h-1zM176 78h1v1h-1zM184 78h2v1h-2zM190 78h1v1h-1zM171 79h1v1h-1zM174 79h3v1h-3zM185 79h2v1h-2zM191 79h1v1h-1zM171 80h2v1h-2zM185 80h1v1h-1zM189 80h1v1h-1zM170 81h1v1h-1zM173 81h2v1h-2zM188 81h1v1h-1zM191 81h1v1h-1zM174 82h1v1h-1zM187 82h2v1h-2zM206 82h1v1h-1zM171 83h2v1h-2zM189 83h1v1h-1zM195 83h1v1h-1zM171 84h2v1h-2zM186 84h1v1h-1zM189 84h2v1h-2zM166 85h1v1h-1zM168 85h1v1h-1zM170 85h2v1h-2zM186 85h1v1h-1zM188 85h1v1h-1zM190 85h1v1h-1zM191 86h1v1h-1zM174 87h1v1h-1zM188 87h1v1h-1zM191 87h1v1h-1zM201 87h1v1h-1zM172 88h1v1h-1zM184 88h1v1h-1zM187 88h1v1h-1zM189 88h1v1h-1zM191 88h3v1h-3zM170 89h1v1h-1zM176 89h1v1h-1zM187 89h3v1h-3zM166 90h1v1h-1zM185 90h1v1h-1zM188 90h1v1h-1zM170 91h1v1h-1zM174 91h1v1h-1zM185 91h4v1h-4zM196 91h1v1h-1zM167 92h2v1h-2zM177 92h1v1h-1zM185 92h1v1h-1zM187 92h1v1h-1zM192 92h2v1h-2zM198 92h1v1h-1zM200 92h1v1h-1zM167 93h1v1h-1zM169 93h1v1h-1zM185 93h3v1h-3zM193 93h1v1h-1zM199 93h1v1h-1zM167 94h1v1h-1zM170 94h1v1h-1zM188 94h1v1h-1zM190 94h2v1h-2zM193 94h1v1h-1zM195 94h1v1h-1zM203 94h1v1h-1zM207 94h1v1h-1zM167 95h1v1h-1zM169 95h1v1h-1zM173 95h1v1h-1zM180 95h1v1h-1zM183 95h1v1h-1zM186 95h1v1h-1zM188 95h1v1h-1zM192 95h1v1h-1zM169 96h1v1h-1zM185 96h2v1h-2zM189 96h1v1h-1zM191 96h1v1h-1zM197 96h1v1h-1zM199 96h1v1h-1zM166 97h1v1h-1zM168 97h1v1h-1zM170 97h2v1h-2zM175 97h1v1h-1zM186 97h2v1h-2zM189 97h3v1h-3zM196 97h3v1h-3zM186 98h1v1h-1zM189 98h1v1h-1zM191 98h1v1h-1zM193 98h1v1h-1zM195 98h1v1h-1zM166 99h1v1h-1zM188 99h2v1h-2zM191 99h1v1h-1zM194 99h1v1h-1zM200 99h1v1h-1zM168 100h1v1h-1zM186 100h1v1h-1zM188 100h2v1h-2zM192 100h1v1h-1zM195 100h1v1h-1zM203 100h1v1h-1zM167 101h2v1h-2zM170 101h1v1h-1zM186 101h1v1h-1zM191 101h1v1h-1zM193 101h2v1h-2zM166 102h3v1h-3zM185 102h3v1h-3zM191 102h2v1h-2zM203 102h1v1h-1zM164 103h2v1h-2zM169 103h1v1h-1zM189 103h5v1h-5zM191 104h1v1h-1zM193 104h1v1h-1zM165 105h1v1h-1zM167 105h1v1h-1zM188 105h2v1h-2zM195 105h1v1h-1zM200 105h1v1h-1zM167 106h1v1h-1zM193 106h1v1h-1zM198 106h1v1h-1zM168 107h1v1h-1zM170 107h1v1h-1zM186 107h1v1h-1zM191 107h1v1h-1zM195 107h1v1h-1zM167 108h2v1h-2zM186 108h3v1h-3zM190 108h2v1h-2zM165 109h3v1h-3zM169 109h1v1h-1zM191 109h1v1h-1zM166 110h1v1h-1zM168 110h1v1h-1zM186 110h1v1h-1zM188 110h1v1h-1zM196 110h1v1h-1zM198 110h1v1h-1zM166 111h1v1h-1zM185 111h1v1h-1zM188 111h1v1h-1zM168 112h1v1h-1zM174 112h1v1h-1zM185 112h1v1h-1zM187 112h1v1h-1zM190 112h1v1h-1zM192 112h1v1h-1zM198 112h1v1h-1zM202 112h1v1h-1zM167 113h1v1h-1zM169 113h1v1h-1zM171 113h1v1h-1zM183 113h5v1h-5zM189 113h1v1h-1zM193 113h1v1h-1zM167 114h1v1h-1zM169 114h2v1h-2zM175 114h2v1h-2zM181 114h1v1h-1zM185 114h1v1h-1zM189 114h1v1h-1zM191 114h1v1h-1zM166 115h1v1h-1zM170 115h3v1h-3zM177 115h1v1h-1zM183 115h1v1h-1zM186 115h1v1h-1zM188 115h1v1h-1zM191 115h1v1h-1zM168 116h2v1h-2zM171 116h1v1h-1zM173 116h2v1h-2zM181 116h1v1h-1zM183 116h3v1h-3zM188 116h2v1h-2zM172 117h3v1h-3zM176 117h1v1h-1zM178 117h1v1h-1zM182 117h3v1h-3zM169 118h2v1h-2zM172 118h1v1h-1zM178 118h2v1h-2zM182 118h1v1h-1zM184 118h3v1h-3z" fill="#4f4f4f"/>
<path d="M181 61h1v1h-1zM178 62h1v1h-1zM181 62h1v1h-1zM185 63h1v1h-1zM181 64h2v1h-2zM184 64h1v1h-1zM182 65h1v1h-1zM180 66h1v1h-1zM182 66h1v1h-1zM184 66h1v1h-1zM177 67h6v1h-6zM185 67h1v1h-1zM173 68h1v1h-1zM175 68h1v1h-1zM178 68h4v1h-4zM183 68h1v1h-1zM185 68h1v1h-1zM174 69h1v1h-1zM177 69h4v1h-4zM183 69h2v1h-2zM187 69h1v1h-1zM175 70h8v1h-8zM185 70h1v1h-1zM176 71h6v1h-6zM184 71h1v1h-1zM175 72h10v1h-10zM172 73h1v1h-1zM174 73h9v1h-9zM184 73h2v1h-2zM187 73h1v1h-1zM175 74h9v1h-9zM185 74h2v1h-2zM175 75h1v1h-1zM177 75h10v1h-10zM172 76h1v1h-1zM174 76h5v1h-5zM180 76h1v1h-1zM182 76h1v1h-1zM184 76h1v1h-1zM174 77h1v1h-1zM176 77h1v1h-1zM178 77h6v1h-6zM174 78h2v1h-2zM177 78h7v1h-7zM172 79h2v1h-2zM177 79h8v1h-8zM187 79h1v1h-1zM173 80h12v1h-12zM186 80h2v1h-2zM171 81h2v1h-2zM175 81h12v1h-12zM172 82h2v1h-2zM175 82h12v1h-12zM189 82h1v1h-1zM173 83h14v1h-14zM188 83h1v1h-1zM173 84h13v1h-13zM187 84h1v1h-1zM172 85h14v1h-14zM187 85h1v1h-1zM172 86h14v1h-14zM187 86h3v1h-3zM171 87h3v1h-3zM175 87h12v1h-12zM190 87h1v1h-1zM170 88h2v1h-2zM173 88h11v1h-11zM185 88h2v1h-2zM172 89h4v1h-4zM177 89h9v1h-9zM169 90h16v1h-16zM186 90h1v1h-1zM193 90h1v1h-1zM171 91h3v1h-3zM175 91h10v1h-10zM189 91h1v1h-1zM169 92h8v1h-8zM178 92h7v1h-7zM186 92h1v1h-1zM188 92h1v1h-1zM196 92h1v1h-1zM171 93h14v1h-14zM191 93h1v1h-1zM171 94h17v1h-17zM189 94h1v1h-1zM194 94h1v1h-1zM200 94h1v1h-1zM170 95h3v1h-3zM174 95h6v1h-6zM181 95h2v1h-2zM184 95h2v1h-2zM187 95h1v1h-1zM191 95h1v1h-1zM166 96h1v1h-1zM170 96h15v1h-15zM187 96h1v1h-1zM169 97h1v1h-1zM172 97h3v1h-3zM176 97h10v1h-10zM188 97h1v1h-1zM195 97h1v1h-1zM167 98h3v1h-3zM171 98h15v1h-15zM187 98h1v1h-1zM168 99h1v1h-1zM170 99h18v1h-18zM193 99h1v1h-1zM165 100h1v1h-1zM167 100h1v1h-1zM169 100h17v1h-17zM190 100h1v1h-1zM199 100h1v1h-1zM166 101h1v1h-1zM169 101h1v1h-1zM171 101h15v1h-15zM187 101h1v1h-1zM195 101h1v1h-1zM169 102h16v1h-16zM188 102h1v1h-1zM190 102h1v1h-1zM194 102h1v1h-1zM197 102h1v1h-1zM167 103h1v1h-1zM170 103h19v1h-19zM168 104h19v1h-19zM188 104h2v1h-2zM168 105h20v1h-20zM191 105h1v1h-1zM168 106h19v1h-19zM188 106h2v1h-2zM167 107h1v1h-1zM169 107h1v1h-1zM171 107h15v1h-15zM187 107h2v1h-2zM196 107h1v1h-1zM169 108h17v1h-17zM168 109h1v1h-1zM170 109h18v1h-18zM165 110h1v1h-1zM169 110h17v1h-17zM187 110h1v1h-1zM189 110h1v1h-1zM167 111h1v1h-1zM169 111h16v1h-16zM186 111h1v1h-1zM189 111h1v1h-1zM169 112h5v1h-5zM175 112h10v1h-10zM186 112h1v1h-1zM188 112h1v1h-1zM170 113h1v1h-1zM172 113h11v1h-11zM196 113h1v1h-1zM171 114h4v1h-4zM177 114h4v1h-4zM182 114h3v1h-3zM187 114h1v1h-1zM168 115h1v1h-1zM173 115h4v1h-4zM178 115h5v1h-5zM184 115h2v1h-2zM170 116h1v1h-1zM172 116h1v1h-1zM175 116h6v1h-6zM182 116h1v1h-1zM175 117h1v1h-1zM177 117h1v1h-1zM179 117h3v1h-3zM185 117h1v1h-1zM187 117h1v1h-1zM173 118h5v1h-5zM180 118h2v1h-2z" fill="#141414"/>
</g>
<rect x="144.6" y="43.5" width="83.6" height="75.6" stroke="#555" stroke-width="1" fill="none"/>
<line x1="190" y1="43.5" x2="190" y2="119.1" stroke="#555" stroke-width="1"/>
<line x1="144.6" y1="81" x2="228.2" y2="81" stroke="#555" stroke-width="1"/>
<line x1="143.0" y1="48.5" x2="144.6" y2="48.5" stroke="#666" stroke-width="0.8"/>
<line x1="143.0" y1="51.5" x2="144.6" y2="51.5" stroke="#666" stroke-width="0.8"/>
<line x1="143.0" y1="55.5" x2="144.6" y2="55.5" stroke="#666" stroke-width="0.8"/>
<line x1="143.0" y1="58.5" x2="144.6" y2="58.5" stroke="#666" stroke-width="0.8"/>
<line x1="143.0" y1="62.5" x2="144.6" y2="62.5" stroke="#666" stroke-width="0.8"/>
<line x1="143.0" y1="66.5" x2="144.6" y2="66.5" stroke="#666" stroke-width="0.8"/>
<line x1="143.0" y1="69.5" x2="144.6" y2="69.5" stroke="#666" stroke-width="0.8"/>
<line x1="143.0" y1="73.5" x2="144.6" y2="73.5" stroke="#666" stroke-width="0.8"/>
<line x1="143.0" y1="76.5" x2="144.6" y2="76.5" stroke="#666" stroke-width="0.8"/>
<line x1="143.0" y1="80.5" x2="144.6" y2="80.5" stroke="#666" stroke-width="0.8"/>
<line x1="143.0" y1="84.5" x2="144.6" y2="84.5" stroke="#666" stroke-width="0.8"/>
<line x1="143.0" y1="87.5" x2="144.6" y2="87.5" stroke="#666" stroke-width="0.8"/>
<line x1="143.0" y1="91.5" x2="144.6" y2="91.5" stroke="#666" stroke-width="0.8"/>
<line x1="143.0" y1="94.5" x2="144.6" y2="94.5" stroke="#666" stroke-width="0.8"/>
<line x1="143.0" y1="98.5" x2="144.6" y2="98.5" stroke="#666" stroke-width="0.8"/>
<line x1="143.0" y1="102.5" x2="144.6" y2="102.5" stroke="#666" stroke-width="0.8"/>
<line x1="143.0" y1="105.5" x2="144.6" y2="105.5" stroke="#666" stroke-width="0.8"/>
<line x1="143.0" y1="109.5" x2="144.6" y2="109.5" stroke="#666" stroke-width="0.8"/>
<line x1="143.0" y1="112.5" x2="144.6" y2="112.5" stroke="#666" stroke-width="0.8"/>
<line x1="143.0" y1="116.5" x2="144.6" y2="116.5" stroke="#666" stroke-width="0.8"/>
<line x1="148.5" y1="119.1" x2="148.5" y2="120.69999999999999" stroke="#666" stroke-width="0.8"/>
<line x1="151.5" y1="119.1" x2="151.5" y2="120.69999999999999" stroke="#666" stroke-width="0.8"/>
<line x1="154.5" y1="119.1" x2="154.5" y2="120.69999999999999" stroke="#666" stroke-width="0.8"/>
<line x1="157.5" y1="119.1" x2="157.5" y2="120.69999999999999" stroke="#666" stroke-width="0.8"/>
<line x1="160.5" y1="119.1" x2="160.5" y2="120.69999999999999" stroke="#666" stroke-width="0.8"/>
<line x1="164.5" y1="119.1" x2="164.5" y2="120.69999999999999" stroke="#666" stroke-width="0.8"/>
<line x1="167.5" y1="119.1" x2="167.5" y2="120.69999999999999" stroke="#666" stroke-width="0.8"/>
<line x1="170.5" y1="119.1" x2="170.5" y2="120.69999999999999" stroke="#666" stroke-width="0.8"/>
<line x1="173.5" y1="119.1" x2="173.5" y2="120.69999999999999" stroke="#666" stroke-width="0.8"/>
<line x1="176.5" y1="119.1" x2="176.5" y2="120.69999999999999" stroke="#666" stroke-width="0.8"/>
<line x1="180.5" y1="119.1" x2="180.5" y2="120.69999999999999" stroke="#666" stroke-width="0.8"/>
<line x1="183.5" y1="119.1" x2="183.5" y2="120.69999999999999" stroke="#666" stroke-width="0.8"/>
<line x1="186.5" y1="119.1" x2="186.5" y2="120.69999999999999" stroke="#666" stroke-width="0.8"/>
<line x1="189.5" y1="119.1" x2="189.5" y2="120.69999999999999" stroke="#666" stroke-width="0.8"/>
<line x1="192.5" y1="119.1" x2="192.5" y2="120.69999999999999" stroke="#666" stroke-width="0.8"/>
<line x1="196.5" y1="119.1" x2="196.5" y2="120.69999999999999" stroke="#666" stroke-width="0.8"/>
<line x1="199.5" y1="119.1" x2="199.5" y2="120.69999999999999" stroke="#666" stroke-width="0.8"/>
<line x1="202.5" y1="119.1" x2="202.5" y2="120.69999999999999" stroke="#666" stroke-width="0.8"/>
<line x1="205.5" y1="119.1" x2="205.5" y2="120.69999999999999" stroke="#666" stroke-width="0.8"/>
<line x1="208.5" y1="119.1" x2="208.5" y2="120.69999999999999" stroke="#666" stroke-width="0.8"/>
<line x1="212.5" y1="119.1" x2="212.5" y2="120.69999999999999" stroke="#666" stroke-width="0.8"/>
<line x1="215.5" y1="119.1" x2="215.5" y2="120.69999999999999" stroke="#666" stroke-width="0.8"/>
<line x1="218.5" y1="119.1" x2="218.5" y2="120.69999999999999" stroke="#666" stroke-width="0.8"/>
<line x1="221.5" y1="119.1" x2="221.5" y2="120.69999999999999" stroke="#666" stroke-width="0.8"/>
<line x1="224.5" y1="119.1" x2="224.5" y2="120.69999999999999" stroke="#666" stroke-width="0.8"/>
<text x="0" y="0" font-size="4.2" fill="#666" text-anchor="middle" transform="translate(141.4,49.8) rotate(-90)">10⁵</text>
<text x="0" y="0" font-size="4.2" fill="#666" text-anchor="middle" transform="translate(141.4,66.8) rotate(-90)">10⁴</text>
<text x="0" y="0" font-size="4.2" fill="#666" text-anchor="middle" transform="translate(141.4,87.4) rotate(-90)">10³</text>
<text x="0" y="0" font-size="3.6" fill="#777" text-anchor="middle" transform="translate(139.0,117.2) rotate(-90)">-479</text>
<line x1="140.1" y1="103.2" x2="144.1" y2="103.2" stroke="#444" stroke-width="1.2"/>
<text x="162.5" y="126.6" font-size="3.6" font-weight="normal" text-anchor="start" fill="#666" text-anchor="middle">-10³</text>
<line x1="162.5" y1="119.1" x2="162.5" y2="121.69999999999999" stroke="#444" stroke-width="1.0"/>
<text x="169.4" y="126.6" font-size="3.6" font-weight="normal" text-anchor="start" fill="#666" text-anchor="middle">0</text>
<line x1="169.4" y1="119.1" x2="169.4" y2="123.1" stroke="#222" stroke-width="1.5"/>
<text x="176" y="126.6" font-size="3.6" font-weight="normal" text-anchor="start" fill="#666" text-anchor="middle">10³</text>
<line x1="176" y1="119.1" x2="176" y2="121.69999999999999" stroke="#444" stroke-width="1.0"/>
<text x="198.5" y="126.6" font-size="3.6" font-weight="normal" text-anchor="start" fill="#666" text-anchor="middle">10⁴</text>
<line x1="198.5" y1="119.1" x2="198.5" y2="121.69999999999999" stroke="#444" stroke-width="1.0"/>
<text x="218.7" y="126.6" font-size="3.6" font-weight="normal" text-anchor="start" fill="#666" text-anchor="middle">10⁵</text>
<line x1="218.7" y1="119.1" x2="218.7" y2="121.69999999999999" stroke="#444" stroke-width="1.0"/>
<text x="145.1" y="130.2" font-size="3.6" font-weight="normal" text-anchor="start" fill="#888" text-anchor="middle">-4,377</text>
<rect x="237.5" y="33.5" width="105.0" height="103.69999999999999" stroke="#777" stroke-width="1" fill="none"/>
<g filter="url(#soft)">
<path d="M314 51h1v1h-1zM297 52h1v1h-1zM310 53h1v1h-1zM315 56h1v1h-1zM319 57h1v1h-1zM321 57h1v1h-1zM289 58h1v1h-1zM314 58h1v1h-1zM330 58h1v1h-1zM300 59h1v1h-1zM305 59h1v1h-1zM315 59h1v1h-1zM321 59h1v1h-1zM295 60h1v1h-1zM305 60h1v1h-1zM311 60h1v1h-1zM328 60h1v1h-1zM286 61h2v1h-2zM289 61h1v1h-1zM264 62h1v1h-1zM286 62h1v1h-1zM288 62h1v1h-1zM290 62h2v1h-2zM305 62h1v1h-1zM316 62h1v1h-1zM324 62h1v1h-1zM329 62h1v1h-1zM283 63h1v1h-1zM286 63h1v1h-1zM289 63h4v1h-4zM301 63h1v1h-1zM310 63h1v1h-1zM316 63h2v1h-2zM326 63h1v1h-1zM287 64h1v1h-1zM291 64h1v1h-1zM298 64h1v1h-1zM311 64h1v1h-1zM316 64h1v1h-1zM271 65h1v1h-1zM287 65h1v1h-1zM289 65h1v1h-1zM296 65h1v1h-1zM303 65h1v1h-1zM309 65h2v1h-2zM318 65h1v1h-1zM321 65h1v1h-1zM270 66h1v1h-1zM284 66h1v1h-1zM287 66h1v1h-1zM289 66h1v1h-1zM306 66h1v1h-1zM313 66h1v1h-1zM319 66h1v1h-1zM325 66h1v1h-1zM338 66h1v1h-1zM278 67h1v1h-1zM285 67h1v1h-1zM289 67h1v1h-1zM293 67h1v1h-1zM295 67h1v1h-1zM302 67h2v1h-2zM305 67h2v1h-2zM308 67h1v1h-1zM312 67h1v1h-1zM318 67h1v1h-1zM323 67h1v1h-1zM326 67h1v1h-1zM284 68h4v1h-4zM289 68h2v1h-2zM292 68h1v1h-1zM296 68h1v1h-1zM298 68h1v1h-1zM316 68h1v1h-1zM326 68h1v1h-1zM286 69h1v1h-1zM295 69h1v1h-1zM300 69h1v1h-1zM307 69h1v1h-1zM309 69h2v1h-2zM316 69h1v1h-1zM318 69h1v1h-1zM282 70h5v1h-5zM289 70h1v1h-1zM291 70h1v1h-1zM294 70h2v1h-2zM299 70h1v1h-1zM303 70h1v1h-1zM315 70h1v1h-1zM317 70h1v1h-1zM331 70h1v1h-1zM271 71h1v1h-1zM285 71h2v1h-2zM292 71h1v1h-1zM296 71h1v1h-1zM303 71h1v1h-1zM309 71h1v1h-1zM313 71h1v1h-1zM315 71h1v1h-1zM318 71h1v1h-1zM322 71h1v1h-1zM273 72h1v1h-1zM278 72h2v1h-2zM283 72h1v1h-1zM294 72h1v1h-1zM297 72h1v1h-1zM299 72h2v1h-2zM315 72h2v1h-2zM318 72h3v1h-3zM284 73h1v1h-1zM292 73h1v1h-1zM296 73h1v1h-1zM303 73h1v1h-1zM326 73h1v1h-1zM331 73h2v1h-2zM283 74h1v1h-1zM295 74h1v1h-1zM306 74h2v1h-2zM309 74h1v1h-1zM311 74h2v1h-2zM315 74h1v1h-1zM317 74h1v1h-1zM319 74h1v1h-1zM323 74h1v1h-1zM335 74h1v1h-1zM297 75h1v1h-1zM299 75h1v1h-1zM301 75h1v1h-1zM303 75h1v1h-1zM314 75h1v1h-1zM317 75h1v1h-1zM319 75h1v1h-1zM322 75h1v1h-1zM283 76h3v1h-3zM293 76h1v1h-1zM300 76h1v1h-1zM302 76h1v1h-1zM307 76h1v1h-1zM316 76h1v1h-1zM318 76h1v1h-1zM320 76h1v1h-1zM330 76h1v1h-1zM338 76h1v1h-1zM281 77h1v1h-1zM294 77h2v1h-2zM297 77h2v1h-2zM303 77h1v1h-1zM310 77h1v1h-1zM318 77h1v1h-1zM320 77h1v1h-1zM326 77h1v1h-1zM330 77h1v1h-1zM282 78h3v1h-3zM295 78h1v1h-1zM297 78h1v1h-1zM300 78h2v1h-2zM312 78h1v1h-1zM317 78h1v1h-1zM325 78h1v1h-1zM282 79h1v1h-1zM285 79h1v1h-1zM294 79h1v1h-1zM298 79h2v1h-2zM301 79h2v1h-2zM304 79h1v1h-1zM325 79h3v1h-3zM331 79h1v1h-1zM281 80h1v1h-1zM294 80h1v1h-1zM297 80h1v1h-1zM299 80h1v1h-1zM302 80h1v1h-1zM305 80h2v1h-2zM308 80h1v1h-1zM315 80h1v1h-1zM330 80h1v1h-1zM279 81h1v1h-1zM282 81h3v1h-3zM292 81h1v1h-1zM295 81h3v1h-3zM304 81h1v1h-1zM308 81h1v1h-1zM311 81h1v1h-1zM315 81h1v1h-1zM320 81h1v1h-1zM324 81h1v1h-1zM280 82h2v1h-2zM283 82h2v1h-2zM296 82h4v1h-4zM302 82h1v1h-1zM304 82h1v1h-1zM310 82h1v1h-1zM314 82h1v1h-1zM265 83h2v1h-2zM281 83h2v1h-2zM297 83h4v1h-4zM304 83h1v1h-1zM307 83h1v1h-1zM311 83h1v1h-1zM315 83h1v1h-1zM268 84h1v1h-1zM276 84h1v1h-1zM279 84h1v1h-1zM283 84h1v1h-1zM301 84h1v1h-1zM305 84h3v1h-3zM323 84h1v1h-1zM326 84h1v1h-1zM268 85h1v1h-1zM299 85h4v1h-4zM304 85h1v1h-1zM306 85h1v1h-1zM308 85h2v1h-2zM312 85h4v1h-4zM320 85h1v1h-1zM280 86h3v1h-3zM284 86h1v1h-1zM297 86h1v1h-1zM302 86h6v1h-6zM309 86h1v1h-1zM312 86h3v1h-3zM316 86h1v1h-1zM322 86h1v1h-1zM271 87h1v1h-1zM279 87h1v1h-1zM281 87h1v1h-1zM283 87h1v1h-1zM297 87h1v1h-1zM300 87h1v1h-1zM302 87h2v1h-2zM308 87h1v1h-1zM310 87h2v1h-2zM314 87h3v1h-3zM319 87h1v1h-1zM325 87h1v1h-1zM278 88h1v1h-1zM301 88h1v1h-1zM303 88h1v1h-1zM308 88h1v1h-1zM312 88h1v1h-1zM317 88h2v1h-2zM320 88h1v1h-1zM267 89h1v1h-1zM277 89h1v1h-1zM279 89h1v1h-1zM283 89h2v1h-2zM301 89h1v1h-1zM303 89h1v1h-1zM308 89h2v1h-2zM311 89h1v1h-1zM314 89h2v1h-2zM272 90h1v1h-1zM278 90h1v1h-1zM302 90h1v1h-1zM304 90h1v1h-1zM307 90h1v1h-1zM310 90h3v1h-3zM314 90h1v1h-1zM316 90h2v1h-2zM319 90h1v1h-1zM321 90h1v1h-1zM279 91h1v1h-1zM282 91h1v1h-1zM306 91h1v1h-1zM309 91h1v1h-1zM311 91h1v1h-1zM314 91h1v1h-1zM316 91h2v1h-2zM257 92h1v1h-1zM274 92h1v1h-1zM279 92h3v1h-3zM309 92h1v1h-1zM313 92h1v1h-1zM315 92h1v1h-1zM319 92h1v1h-1zM263 93h1v1h-1zM275 93h2v1h-2zM279 93h1v1h-1zM316 93h1v1h-1zM319 93h2v1h-2zM275 94h1v1h-1zM277 94h5v1h-5zM311 94h1v1h-1zM314 94h1v1h-1zM318 94h1v1h-1zM275 95h2v1h-2zM282 95h1v1h-1zM313 95h1v1h-1zM315 95h3v1h-3zM319 95h1v1h-1zM270 96h3v1h-3zM274 96h1v1h-1zM277 96h1v1h-1zM279 96h1v1h-1zM315 96h1v1h-1zM318 96h1v1h-1zM321 96h2v1h-2zM266 97h1v1h-1zM276 97h2v1h-2zM279 97h1v1h-1zM281 97h1v1h-1zM317 97h2v1h-2zM323 97h1v1h-1zM260 98h1v1h-1zM263 98h1v1h-1zM268 98h1v1h-1zM277 98h1v1h-1zM279 98h2v1h-2zM314 98h1v1h-1zM316 98h1v1h-1zM318 98h4v1h-4zM252 99h1v1h-1zM254 99h1v1h-1zM257 99h2v1h-2zM263 99h3v1h-3zM270 99h1v1h-1zM272 99h1v1h-1zM274 99h1v1h-1zM278 99h1v1h-1zM281 99h1v1h-1zM317 99h4v1h-4zM258 100h1v1h-1zM264 100h1v1h-1zM266 100h1v1h-1zM270 100h1v1h-1zM273 100h1v1h-1zM277 100h1v1h-1zM314 100h1v1h-1zM320 100h1v1h-1zM256 101h1v1h-1zM259 101h1v1h-1zM261 101h1v1h-1zM263 101h3v1h-3zM268 101h3v1h-3zM276 101h1v1h-1zM279 101h2v1h-2zM282 101h1v1h-1zM314 101h2v1h-2zM252 102h1v1h-1zM256 102h1v1h-1zM263 102h1v1h-1zM275 102h1v1h-1zM279 102h1v1h-1zM285 102h1v1h-1zM316 102h2v1h-2zM255 103h2v1h-2zM258 103h1v1h-1zM260 103h3v1h-3zM266 103h1v1h-1zM268 103h1v1h-1zM272 103h1v1h-1zM277 103h2v1h-2zM280 103h1v1h-1zM314 103h1v1h-1zM317 103h1v1h-1zM319 103h1v1h-1zM257 104h2v1h-2zM263 104h2v1h-2zM268 104h1v1h-1zM271 104h1v1h-1zM273 104h3v1h-3zM278 104h1v1h-1zM313 104h1v1h-1zM315 104h2v1h-2zM319 104h1v1h-1zM258 105h1v1h-1zM260 105h1v1h-1zM263 105h1v1h-1zM266 105h2v1h-2zM270 105h2v1h-2zM274 105h1v1h-1zM276 105h2v1h-2zM279 105h2v1h-2zM313 105h1v1h-1zM315 105h1v1h-1zM317 105h2v1h-2zM322 105h1v1h-1zM325 105h1v1h-1zM252 106h1v1h-1zM257 106h1v1h-1zM261 106h1v1h-1zM265 106h1v1h-1zM267 106h2v1h-2zM272 106h1v1h-1zM279 106h5v1h-5zM285 106h1v1h-1zM311 106h1v1h-1zM314 106h1v1h-1zM318 106h1v1h-1zM320 106h1v1h-1zM259 107h2v1h-2zM269 107h3v1h-3zM275 107h1v1h-1zM278 107h2v1h-2zM317 107h1v1h-1zM259 108h1v1h-1zM261 108h1v1h-1zM268 108h2v1h-2zM272 108h2v1h-2zM275 108h3v1h-3zM286 108h1v1h-1zM304 108h1v1h-1zM306 108h1v1h-1zM314 108h3v1h-3zM320 108h1v1h-1zM253 109h1v1h-1zM259 109h1v1h-1zM262 109h2v1h-2zM265 109h2v1h-2zM271 109h1v1h-1zM273 109h1v1h-1zM276 109h1v1h-1zM282 109h2v1h-2zM285 109h1v1h-1zM306 109h1v1h-1zM310 109h2v1h-2zM314 109h1v1h-1zM326 109h1v1h-1zM257 110h1v1h-1zM266 110h1v1h-1zM268 110h1v1h-1zM278 110h2v1h-2zM284 110h3v1h-3zM290 110h1v1h-1zM296 110h1v1h-1zM301 110h1v1h-1zM303 110h1v1h-1zM309 110h1v1h-1zM315 110h1v1h-1zM338 110h1v1h-1zM261 111h1v1h-1zM267 111h1v1h-1zM282 111h2v1h-2zM285 111h1v1h-1zM300 111h2v1h-2zM308 111h2v1h-2zM311 111h2v1h-2zM315 111h1v1h-1zM317 111h1v1h-1zM320 111h1v1h-1zM322 111h1v1h-1zM260 112h1v1h-1zM267 112h1v1h-1zM271 112h2v1h-2zM276 112h1v1h-1zM282 112h1v1h-1zM287 112h3v1h-3zM292 112h2v1h-2zM297 112h5v1h-5zM303 112h1v1h-1zM305 112h1v1h-1zM309 112h1v1h-1zM314 112h1v1h-1zM316 112h1v1h-1zM261 113h1v1h-1zM263 113h1v1h-1zM277 113h1v1h-1zM284 113h1v1h-1zM287 113h1v1h-1zM289 113h1v1h-1zM295 113h4v1h-4zM301 113h2v1h-2zM304 113h4v1h-4zM309 113h1v1h-1zM311 113h1v1h-1zM317 113h1v1h-1zM277 114h1v1h-1zM284 114h1v1h-1zM286 114h1v1h-1zM288 114h1v1h-1zM292 114h2v1h-2zM295 114h1v1h-1zM299 114h1v1h-1zM302 114h1v1h-1zM304 114h1v1h-1zM308 114h1v1h-1zM313 114h1v1h-1zM318 114h1v1h-1zM320 114h2v1h-2zM283 115h1v1h-1zM287 115h3v1h-3zM291 115h3v1h-3zM296 115h4v1h-4zM301 115h3v1h-3zM306 115h1v1h-1zM309 115h1v1h-1zM313 115h1v1h-1zM315 115h1v1h-1zM319 115h1v1h-1zM285 116h1v1h-1zM287 116h2v1h-2zM291 116h1v1h-1zM295 116h2v1h-2zM299 116h1v1h-1zM306 116h1v1h-1zM308 116h2v1h-2zM312 116h1v1h-1zM318 116h1v1h-1zM322 116h1v1h-1zM273 117h1v1h-1zM293 117h1v1h-1zM296 117h2v1h-2zM313 117h1v1h-1zM261 118h1v1h-1zM286 118h1v1h-1zM288 118h1v1h-1zM291 118h1v1h-1zM294 118h1v1h-1zM314 118h1v1h-1z" fill="#c4c4c4"/>
<path d="M304 59h1v1h-1zM309 63h1v1h-1zM286 64h1v1h-1zM289 64h2v1h-2zM288 65h1v1h-1zM291 65h1v1h-1zM293 65h1v1h-1zM286 67h3v1h-3zM290 67h1v1h-1zM292 67h1v1h-1zM291 68h1v1h-1zM293 68h1v1h-1zM289 69h3v1h-3zM287 70h2v1h-2zM290 70h1v1h-1zM284 71h1v1h-1zM288 71h1v1h-1zM290 71h2v1h-2zM284 72h4v1h-4zM315 73h1v1h-1zM285 74h1v1h-1zM291 74h1v1h-1zM293 74h1v1h-1zM283 75h2v1h-2zM292 75h1v1h-1zM295 76h1v1h-1zM283 77h2v1h-2zM293 77h1v1h-1zM300 77h1v1h-1zM307 77h1v1h-1zM285 78h1v1h-1zM294 78h1v1h-1zM283 79h1v1h-1zM291 79h1v1h-1zM295 79h1v1h-1zM306 79h1v1h-1zM284 80h1v1h-1zM291 80h1v1h-1zM295 80h1v1h-1zM293 81h2v1h-2zM282 82h1v1h-1zM293 82h1v1h-1zM295 82h1v1h-1zM284 83h1v1h-1zM292 83h4v1h-4zM305 83h1v1h-1zM319 83h1v1h-1zM282 84h1v1h-1zM295 84h1v1h-1zM298 84h1v1h-1zM304 84h1v1h-1zM314 84h1v1h-1zM316 84h1v1h-1zM282 85h1v1h-1zM285 85h1v1h-1zM283 86h1v1h-1zM299 86h1v1h-1zM280 87h1v1h-1zM295 87h2v1h-2zM298 87h1v1h-1zM306 87h1v1h-1zM312 87h1v1h-1zM282 88h1v1h-1zM284 88h1v1h-1zM300 88h1v1h-1zM302 88h1v1h-1zM305 88h1v1h-1zM307 88h1v1h-1zM309 88h1v1h-1zM315 88h1v1h-1zM281 89h1v1h-1zM287 89h1v1h-1zM297 89h1v1h-1zM300 89h1v1h-1zM307 89h1v1h-1zM310 89h1v1h-1zM313 89h1v1h-1zM279 90h1v1h-1zM281 90h3v1h-3zM285 90h2v1h-2zM299 90h1v1h-1zM301 90h1v1h-1zM303 90h1v1h-1zM308 90h1v1h-1zM313 90h1v1h-1zM281 91h1v1h-1zM283 91h1v1h-1zM304 91h2v1h-2zM308 91h1v1h-1zM310 91h1v1h-1zM312 91h2v1h-2zM315 91h1v1h-1zM319 91h1v1h-1zM282 92h1v1h-1zM305 92h4v1h-4zM311 92h2v1h-2zM314 92h1v1h-1zM316 92h1v1h-1zM282 93h1v1h-1zM305 93h2v1h-2zM310 93h1v1h-1zM314 93h2v1h-2zM282 94h1v1h-1zM284 94h1v1h-1zM312 94h1v1h-1zM315 94h2v1h-2zM306 95h1v1h-1zM310 95h1v1h-1zM314 95h1v1h-1zM278 96h1v1h-1zM281 96h1v1h-1zM309 96h1v1h-1zM314 96h1v1h-1zM316 96h1v1h-1zM284 97h1v1h-1zM309 97h1v1h-1zM315 97h1v1h-1zM281 98h2v1h-2zM313 98h1v1h-1zM317 98h1v1h-1zM280 99h1v1h-1zM315 99h1v1h-1zM260 100h1v1h-1zM278 100h1v1h-1zM308 100h1v1h-1zM310 100h1v1h-1zM313 100h1v1h-1zM316 100h2v1h-2zM271 101h1v1h-1zM273 101h2v1h-2zM281 101h1v1h-1zM303 101h1v1h-1zM312 101h1v1h-1zM320 101h1v1h-1zM262 102h1v1h-1zM277 102h2v1h-2zM280 102h1v1h-1zM282 102h1v1h-1zM308 102h1v1h-1zM313 102h1v1h-1zM319 102h1v1h-1zM257 103h1v1h-1zM265 103h1v1h-1zM282 103h1v1h-1zM316 103h1v1h-1zM260 104h1v1h-1zM265 104h1v1h-1zM282 104h2v1h-2zM309 104h2v1h-2zM312 104h1v1h-1zM317 104h1v1h-1zM283 105h1v1h-1zM291 105h1v1h-1zM307 105h2v1h-2zM310 105h1v1h-1zM312 105h1v1h-1zM316 105h1v1h-1zM258 106h1v1h-1zM264 106h1v1h-1zM305 106h1v1h-1zM308 106h1v1h-1zM315 106h1v1h-1zM317 106h1v1h-1zM252 107h1v1h-1zM281 107h1v1h-1zM305 107h1v1h-1zM312 107h3v1h-3zM266 108h1v1h-1zM285 108h1v1h-1zM290 108h1v1h-1zM299 108h1v1h-1zM301 108h1v1h-1zM303 108h1v1h-1zM309 108h2v1h-2zM312 108h1v1h-1zM284 109h1v1h-1zM286 109h3v1h-3zM293 109h1v1h-1zM297 109h1v1h-1zM299 109h3v1h-3zM308 109h2v1h-2zM312 109h2v1h-2zM315 109h1v1h-1zM317 109h1v1h-1zM259 110h1v1h-1zM288 110h1v1h-1zM293 110h1v1h-1zM305 110h1v1h-1zM308 110h1v1h-1zM310 110h2v1h-2zM313 110h2v1h-2zM284 111h1v1h-1zM287 111h1v1h-1zM289 111h2v1h-2zM297 111h3v1h-3zM302 111h1v1h-1zM307 111h1v1h-1zM310 111h1v1h-1zM286 112h1v1h-1zM291 112h1v1h-1zM295 112h2v1h-2zM302 112h1v1h-1zM304 112h1v1h-1zM306 112h2v1h-2zM313 112h1v1h-1zM286 113h1v1h-1zM290 113h2v1h-2zM294 113h1v1h-1zM300 113h1v1h-1zM303 113h1v1h-1zM287 114h1v1h-1zM297 114h2v1h-2zM303 114h1v1h-1zM295 115h1v1h-1zM311 115h1v1h-1z" fill="#8a8a8a"/>
<path d="M290 65h1v1h-1zM292 66h1v1h-1zM288 68h1v1h-1zM287 69h2v1h-2zM292 70h1v1h-1zM287 71h1v1h-1zM288 72h1v1h-1zM290 72h3v1h-3zM287 73h1v1h-1zM289 73h3v1h-3zM284 74h1v1h-1zM286 74h5v1h-5zM289 75h1v1h-1zM291 75h1v1h-1zM293 75h1v1h-1zM287 76h2v1h-2zM291 76h2v1h-2zM285 77h1v1h-1zM287 77h1v1h-1zM289 77h3v1h-3zM286 78h2v1h-2zM292 78h1v1h-1zM284 79h1v1h-1zM287 79h1v1h-1zM290 79h1v1h-1zM293 79h1v1h-1zM285 80h1v1h-1zM287 80h1v1h-1zM289 80h1v1h-1zM292 80h1v1h-1zM285 81h3v1h-3zM291 81h1v1h-1zM285 82h1v1h-1zM287 82h1v1h-1zM292 82h1v1h-1zM283 83h1v1h-1zM285 83h2v1h-2zM289 83h1v1h-1zM291 83h1v1h-1zM296 83h1v1h-1zM285 84h2v1h-2zM291 84h1v1h-1zM294 84h1v1h-1zM284 85h1v1h-1zM287 85h1v1h-1zM289 85h1v1h-1zM291 85h1v1h-1zM293 85h1v1h-1zM295 85h1v1h-1zM298 85h1v1h-1zM303 85h1v1h-1zM286 86h1v1h-1zM298 86h1v1h-1zM301 86h1v1h-1zM284 87h1v1h-1zM286 87h2v1h-2zM293 87h2v1h-2zM299 87h1v1h-1zM305 87h1v1h-1zM285 88h1v1h-1zM287 88h1v1h-1zM289 88h2v1h-2zM298 88h1v1h-1zM304 88h1v1h-1zM306 88h1v1h-1zM282 89h1v1h-1zM285 89h2v1h-2zM298 89h1v1h-1zM302 89h1v1h-1zM305 89h1v1h-1zM300 90h1v1h-1zM305 90h2v1h-2zM284 91h1v1h-1zM289 91h1v1h-1zM299 91h1v1h-1zM301 91h1v1h-1zM303 91h1v1h-1zM307 91h1v1h-1zM283 92h2v1h-2zM302 92h1v1h-1zM304 92h1v1h-1zM281 93h1v1h-1zM284 93h1v1h-1zM295 93h1v1h-1zM304 93h1v1h-1zM308 93h2v1h-2zM311 93h3v1h-3zM304 94h1v1h-1zM308 94h3v1h-3zM313 94h1v1h-1zM281 95h1v1h-1zM286 95h1v1h-1zM307 95h2v1h-2zM311 95h2v1h-2zM283 96h2v1h-2zM300 96h2v1h-2zM307 96h1v1h-1zM310 96h4v1h-4zM280 97h1v1h-1zM282 97h2v1h-2zM285 97h1v1h-1zM305 97h1v1h-1zM312 97h1v1h-1zM314 97h1v1h-1zM316 97h1v1h-1zM283 98h1v1h-1zM285 98h1v1h-1zM308 98h1v1h-1zM315 98h1v1h-1zM279 99h1v1h-1zM282 99h2v1h-2zM301 99h1v1h-1zM303 99h1v1h-1zM306 99h1v1h-1zM312 99h1v1h-1zM267 100h1v1h-1zM281 100h2v1h-2zM303 100h2v1h-2zM306 100h1v1h-1zM309 100h1v1h-1zM311 100h2v1h-2zM315 100h1v1h-1zM278 101h1v1h-1zM284 101h2v1h-2zM302 101h1v1h-1zM305 101h1v1h-1zM308 101h2v1h-2zM313 101h1v1h-1zM283 102h2v1h-2zM312 102h1v1h-1zM314 102h2v1h-2zM281 103h1v1h-1zM284 103h1v1h-1zM298 103h2v1h-2zM304 103h1v1h-1zM309 103h1v1h-1zM311 103h1v1h-1zM313 103h1v1h-1zM315 103h1v1h-1zM281 104h1v1h-1zM284 104h1v1h-1zM286 104h1v1h-1zM289 104h1v1h-1zM294 104h1v1h-1zM303 104h1v1h-1zM308 104h1v1h-1zM314 104h1v1h-1zM318 104h1v1h-1zM282 105h1v1h-1zM284 105h1v1h-1zM288 105h2v1h-2zM295 105h1v1h-1zM300 105h1v1h-1zM309 105h1v1h-1zM311 105h1v1h-1zM284 106h1v1h-1zM287 106h2v1h-2zM297 106h1v1h-1zM299 106h3v1h-3zM303 106h1v1h-1zM306 106h2v1h-2zM309 106h2v1h-2zM312 106h2v1h-2zM283 107h1v1h-1zM285 107h2v1h-2zM289 107h2v1h-2zM292 107h1v1h-1zM294 107h1v1h-1zM296 107h1v1h-1zM304 107h1v1h-1zM306 107h1v1h-1zM308 107h4v1h-4zM315 107h2v1h-2zM284 108h1v1h-1zM288 108h2v1h-2zM292 108h1v1h-1zM305 108h1v1h-1zM307 108h2v1h-2zM311 108h1v1h-1zM317 108h1v1h-1zM289 109h1v1h-1zM291 109h2v1h-2zM295 109h1v1h-1zM302 109h2v1h-2zM305 109h1v1h-1zM287 110h1v1h-1zM289 110h1v1h-1zM291 110h2v1h-2zM298 110h1v1h-1zM300 110h1v1h-1zM302 110h1v1h-1zM306 110h2v1h-2zM288 111h1v1h-1zM292 111h2v1h-2zM295 111h2v1h-2zM303 111h4v1h-4zM294 112h1v1h-1zM308 112h1v1h-1zM293 113h1v1h-1z" fill="#4f4f4f"/>
<path d="M288 66h1v1h-1zM289 71h1v1h-1zM289 72h1v1h-1zM285 73h2v1h-2zM288 73h1v1h-1zM292 74h1v1h-1zM285 75h4v1h-4zM290 75h1v1h-1zM286 76h1v1h-1zM289 76h2v1h-2zM286 77h1v1h-1zM288 77h1v1h-1zM292 77h1v1h-1zM288 78h4v1h-4zM286 79h1v1h-1zM288 79h2v1h-2zM292 79h1v1h-1zM286 80h1v1h-1zM288 80h1v1h-1zM290 80h1v1h-1zM293 80h1v1h-1zM288 81h3v1h-3zM286 82h1v1h-1zM288 82h4v1h-4zM294 82h1v1h-1zM287 83h2v1h-2zM290 83h1v1h-1zM287 84h4v1h-4zM292 84h2v1h-2zM296 84h2v1h-2zM286 85h1v1h-1zM288 85h1v1h-1zM290 85h1v1h-1zM292 85h1v1h-1zM294 85h1v1h-1zM297 85h1v1h-1zM285 86h1v1h-1zM287 86h10v1h-10zM285 87h1v1h-1zM288 87h5v1h-5zM301 87h1v1h-1zM283 88h1v1h-1zM286 88h1v1h-1zM288 88h1v1h-1zM291 88h7v1h-7zM299 88h1v1h-1zM288 89h9v1h-9zM299 89h1v1h-1zM304 89h1v1h-1zM306 89h1v1h-1zM312 89h1v1h-1zM284 90h1v1h-1zM287 90h12v1h-12zM309 90h1v1h-1zM285 91h4v1h-4zM290 91h9v1h-9zM300 91h1v1h-1zM302 91h1v1h-1zM285 92h17v1h-17zM303 92h1v1h-1zM283 93h1v1h-1zM285 93h10v1h-10zM296 93h8v1h-8zM307 93h1v1h-1zM283 94h1v1h-1zM285 94h19v1h-19zM305 94h3v1h-3zM283 95h3v1h-3zM287 95h19v1h-19zM309 95h1v1h-1zM282 96h1v1h-1zM285 96h15v1h-15zM302 96h5v1h-5zM308 96h1v1h-1zM286 97h19v1h-19zM306 97h3v1h-3zM310 97h2v1h-2zM313 97h1v1h-1zM284 98h1v1h-1zM286 98h22v1h-22zM309 98h4v1h-4zM284 99h17v1h-17zM302 99h1v1h-1zM304 99h2v1h-2zM307 99h5v1h-5zM313 99h2v1h-2zM316 99h1v1h-1zM283 100h20v1h-20zM305 100h1v1h-1zM307 100h1v1h-1zM318 100h1v1h-1zM283 101h1v1h-1zM286 101h16v1h-16zM304 101h1v1h-1zM306 101h2v1h-2zM310 101h2v1h-2zM286 102h22v1h-22zM309 102h3v1h-3zM283 103h1v1h-1zM285 103h13v1h-13zM300 103h4v1h-4zM305 103h4v1h-4zM310 103h1v1h-1zM312 103h1v1h-1zM285 104h1v1h-1zM287 104h2v1h-2zM290 104h4v1h-4zM295 104h8v1h-8zM304 104h4v1h-4zM311 104h1v1h-1zM285 105h3v1h-3zM290 105h1v1h-1zM292 105h3v1h-3zM296 105h4v1h-4zM301 105h6v1h-6zM314 105h1v1h-1zM286 106h1v1h-1zM289 106h8v1h-8zM298 106h1v1h-1zM302 106h1v1h-1zM304 106h1v1h-1zM287 107h2v1h-2zM291 107h1v1h-1zM293 107h1v1h-1zM295 107h1v1h-1zM297 107h7v1h-7zM307 107h1v1h-1zM287 108h1v1h-1zM291 108h1v1h-1zM293 108h6v1h-6zM300 108h1v1h-1zM302 108h1v1h-1zM313 108h1v1h-1zM290 109h1v1h-1zM294 109h1v1h-1zM296 109h1v1h-1zM298 109h1v1h-1zM304 109h1v1h-1zM294 110h2v1h-2zM297 110h1v1h-1zM291 111h1v1h-1zM294 111h1v1h-1z" fill="#141414"/>
</g>
<rect x="251.6" y="43.5" width="87.50000000000003" height="75.6" stroke="#555" stroke-width="1" fill="none"/>
<line x1="294.5" y1="43.5" x2="294.5" y2="119.1" stroke="#555" stroke-width="1"/>
<line x1="251.6" y1="83.3" x2="339.1" y2="83.3" stroke="#555" stroke-width="1"/>
<line x1="250.0" y1="48.5" x2="251.6" y2="48.5" stroke="#666" stroke-width="0.8"/>
<line x1="250.0" y1="51.5" x2="251.6" y2="51.5" stroke="#666" stroke-width="0.8"/>
<line x1="250.0" y1="55.5" x2="251.6" y2="55.5" stroke="#666" stroke-width="0.8"/>
<line x1="250.0" y1="58.5" x2="251.6" y2="58.5" stroke="#666" stroke-width="0.8"/>
<line x1="250.0" y1="62.5" x2="251.6" y2="62.5" stroke="#666" stroke-width="0.8"/>
<line x1="250.0" y1="66.5" x2="251.6" y2="66.5" stroke="#666" stroke-width="0.8"/>
<line x1="250.0" y1="69.5" x2="251.6" y2="69.5" stroke="#666" stroke-width="0.8"/>
<line x1="250.0" y1="73.5" x2="251.6" y2="73.5" stroke="#666" stroke-width="0.8"/>
<line x1="250.0" y1="76.5" x2="251.6" y2="76.5" stroke="#666" stroke-width="0.8"/>
<line x1="250.0" y1="80.5" x2="251.6" y2="80.5" stroke="#666" stroke-width="0.8"/>
<line x1="250.0" y1="84.5" x2="251.6" y2="84.5" stroke="#666" stroke-width="0.8"/>
<line x1="250.0" y1="87.5" x2="251.6" y2="87.5" stroke="#666" stroke-width="0.8"/>
<line x1="250.0" y1="91.5" x2="251.6" y2="91.5" stroke="#666" stroke-width="0.8"/>
<line x1="250.0" y1="94.5" x2="251.6" y2="94.5" stroke="#666" stroke-width="0.8"/>
<line x1="250.0" y1="98.5" x2="251.6" y2="98.5" stroke="#666" stroke-width="0.8"/>
<line x1="250.0" y1="102.5" x2="251.6" y2="102.5" stroke="#666" stroke-width="0.8"/>
<line x1="250.0" y1="105.5" x2="251.6" y2="105.5" stroke="#666" stroke-width="0.8"/>
<line x1="250.0" y1="109.5" x2="251.6" y2="109.5" stroke="#666" stroke-width="0.8"/>
<line x1="250.0" y1="112.5" x2="251.6" y2="112.5" stroke="#666" stroke-width="0.8"/>
<line x1="250.0" y1="116.5" x2="251.6" y2="116.5" stroke="#666" stroke-width="0.8"/>
<line x1="255.5" y1="119.1" x2="255.5" y2="120.69999999999999" stroke="#666" stroke-width="0.8"/>
<line x1="258.5" y1="119.1" x2="258.5" y2="120.69999999999999" stroke="#666" stroke-width="0.8"/>
<line x1="261.5" y1="119.1" x2="261.5" y2="120.69999999999999" stroke="#666" stroke-width="0.8"/>
<line x1="264.5" y1="119.1" x2="264.5" y2="120.69999999999999" stroke="#666" stroke-width="0.8"/>
<line x1="267.5" y1="119.1" x2="267.5" y2="120.69999999999999" stroke="#666" stroke-width="0.8"/>
<line x1="271.5" y1="119.1" x2="271.5" y2="120.69999999999999" stroke="#666" stroke-width="0.8"/>
<line x1="274.5" y1="119.1" x2="274.5" y2="120.69999999999999" stroke="#666" stroke-width="0.8"/>
<line x1="277.5" y1="119.1" x2="277.5" y2="120.69999999999999" stroke="#666" stroke-width="0.8"/>
<line x1="280.5" y1="119.1" x2="280.5" y2="120.69999999999999" stroke="#666" stroke-width="0.8"/>
<line x1="283.5" y1="119.1" x2="283.5" y2="120.69999999999999" stroke="#666" stroke-width="0.8"/>
<line x1="287.5" y1="119.1" x2="287.5" y2="120.69999999999999" stroke="#666" stroke-width="0.8"/>
<line x1="290.5" y1="119.1" x2="290.5" y2="120.69999999999999" stroke="#666" stroke-width="0.8"/>
<line x1="293.5" y1="119.1" x2="293.5" y2="120.69999999999999" stroke="#666" stroke-width="0.8"/>
<line x1="296.5" y1="119.1" x2="296.5" y2="120.69999999999999" stroke="#666" stroke-width="0.8"/>
<line x1="299.5" y1="119.1" x2="299.5" y2="120.69999999999999" stroke="#666" stroke-width="0.8"/>
<line x1="303.5" y1="119.1" x2="303.5" y2="120.69999999999999" stroke="#666" stroke-width="0.8"/>
<line x1="306.5" y1="119.1" x2="306.5" y2="120.69999999999999" stroke="#666" stroke-width="0.8"/>
<line x1="309.5" y1="119.1" x2="309.5" y2="120.69999999999999" stroke="#666" stroke-width="0.8"/>
<line x1="312.5" y1="119.1" x2="312.5" y2="120.69999999999999" stroke="#666" stroke-width="0.8"/>
<line x1="315.5" y1="119.1" x2="315.5" y2="120.69999999999999" stroke="#666" stroke-width="0.8"/>
<line x1="319.5" y1="119.1" x2="319.5" y2="120.69999999999999" stroke="#666" stroke-width="0.8"/>
<line x1="322.5" y1="119.1" x2="322.5" y2="120.69999999999999" stroke="#666" stroke-width="0.8"/>
<line x1="325.5" y1="119.1" x2="325.5" y2="120.69999999999999" stroke="#666" stroke-width="0.8"/>
<line x1="328.5" y1="119.1" x2="328.5" y2="120.69999999999999" stroke="#666" stroke-width="0.8"/>
<line x1="331.5" y1="119.1" x2="331.5" y2="120.69999999999999" stroke="#666" stroke-width="0.8"/>
<line x1="335.5" y1="119.1" x2="335.5" y2="120.69999999999999" stroke="#666" stroke-width="0.8"/>
<text x="0" y="0" font-size="4.2" fill="#666" text-anchor="middle" transform="translate(248.4,49.8) rotate(-90)">10⁵</text>
<text x="0" y="0" font-size="4.2" fill="#666" text-anchor="middle" transform="translate(248.4,66.8) rotate(-90)">10⁴</text>
<text x="0" y="0" font-size="4.2" fill="#666" text-anchor="middle" transform="translate(248.4,87.4) rotate(-90)">10³</text>
<text x="0" y="0" font-size="3.6" fill="#777" text-anchor="middle" transform="translate(246.0,117.2) rotate(-90)">-1,672</text>
<line x1="247.1" y1="103.2" x2="251.1" y2="103.2" stroke="#444" stroke-width="1.2"/>
<text x="264.2" y="126.6" font-size="3.6" font-weight="normal" text-anchor="start" fill="#666" text-anchor="middle">-10³</text>
<line x1="264.2" y1="119.1" x2="264.2" y2="121.69999999999999" stroke="#444" stroke-width="1.0"/>
<text x="284" y="126.6" font-size="3.6" font-weight="normal" text-anchor="start" fill="#666" text-anchor="middle">0</text>
<line x1="284" y1="119.1" x2="284" y2="123.1" stroke="#222" stroke-width="1.5"/>
<text x="302.6" y="126.6" font-size="3.6" font-weight="normal" text-anchor="start" fill="#666" text-anchor="middle">10³</text>
<line x1="302.6" y1="119.1" x2="302.6" y2="121.69999999999999" stroke="#444" stroke-width="1.0"/>
<text x="329.9" y="126.6" font-size="3.6" font-weight="normal" text-anchor="start" fill="#666" text-anchor="middle">10⁴</text>
<line x1="329.9" y1="119.1" x2="329.9" y2="121.69999999999999" stroke="#444" stroke-width="1.0"/>
<text x="252.1" y="130.2" font-size="3.6" font-weight="normal" text-anchor="start" fill="#888" text-anchor="middle">-27,487</text>
<ellipse cx="71.5" cy="96.5" rx="4.3" ry="6.8" fill="url(#ov)" stroke="#f2f2f2" stroke-width="1"/>
<path d="M175.5,88.8 C179,88.8 181.8,95 181.8,101 C181.8,106 178.5,109 175,109 C171.2,109 168.4,106 168.4,101.5 C168.4,95 172,88.8 175.5,88.8 Z" fill="url(#ov)" stroke="#f6f6f6" stroke-width="1.3"/>
<ellipse cx="285.9" cy="96.3" rx="4.8" ry="6.5" fill="url(#ov)" stroke="#f2f2f2" stroke-width="1"/>
<text x="0" y="0" font-size="4.282" font-weight="normal" fill="#999" textLength="5.067" lengthAdjust="spacingAndGlyphs" transform="translate(42.220,51.286) rotate(0.05)" >Q1</text>
<text x="0" y="0" font-size="4.732" font-weight="normal" fill="#999" textLength="5.509" lengthAdjust="spacingAndGlyphs" transform="translate(111.204,51.601) rotate(0.05)" >Q2</text>
<text x="0" y="0" font-size="4.620" font-weight="normal" fill="#999" textLength="4.617" lengthAdjust="spacingAndGlyphs" transform="translate(42.736,114.822) rotate(0.05)" >Q3</text>
<text x="0" y="0" font-size="3.606" font-weight="normal" fill="#999" textLength="4.349" lengthAdjust="spacingAndGlyphs" transform="translate(111.645,115.215) rotate(0.05)" >Q4</text>
<text x="0" y="0" font-size="4.282" font-weight="normal" fill="#999" textLength="5.067" lengthAdjust="spacingAndGlyphs" transform="translate(147.420,51.286) rotate(0.05)" >Q1</text>
<text x="0" y="0" font-size="4.507" font-weight="normal" fill="#999" textLength="5.617" lengthAdjust="spacingAndGlyphs" transform="translate(220.300,50.644) rotate(0.05)" >Q2</text>
<text x="0" y="0" font-size="4.394" font-weight="normal" fill="#999" textLength="4.724" lengthAdjust="spacingAndGlyphs" transform="translate(147.632,114.865) rotate(0.05)" >Q3</text>
<text x="0" y="0" font-size="3.831" font-weight="normal" fill="#999" textLength="4.243" lengthAdjust="spacingAndGlyphs" transform="translate(221.549,114.772) rotate(0.05)" >Q4</text>
<text x="0" y="0" font-size="4.394" font-weight="normal" fill="#999" textLength="4.528" lengthAdjust="spacingAndGlyphs" transform="translate(255.139,52.465) rotate(0.05)" >Q1</text>
<text x="0" y="0" font-size="3.718" font-weight="normal" fill="#999" textLength="5.617" lengthAdjust="spacingAndGlyphs" transform="translate(326.200,52.194) rotate(0.05)" >Q2</text>
<text x="0" y="0" font-size="4.732" font-weight="normal" fill="#999" textLength="3.865" lengthAdjust="spacingAndGlyphs" transform="translate(255.262,115.301) rotate(0.05)" >Q3</text>
<text x="0" y="0" font-size="3.155" font-weight="normal" fill="#999" textLength="5.516" lengthAdjust="spacingAndGlyphs" transform="translate(326.204,116.501) rotate(0.05)" >Q4</text>
<text x="0" y="0" font-size="11.456" font-weight="bold" fill="#111" textLength="5.126" lengthAdjust="spacingAndGlyphs" transform="translate(50.030,59.620) rotate(0.05)" stroke="#111" stroke-width="0.1" >0</text>
<text x="0" y="0" font-size="11.208" font-weight="bold" fill="#111" textLength="6.076" lengthAdjust="spacingAndGlyphs" transform="translate(95.804,59.549) rotate(0.05)" stroke="#111" stroke-width="0.1" >0</text>
<text x="0" y="0" font-size="9.315" font-weight="bold" fill="#111" textLength="19.534" lengthAdjust="spacingAndGlyphs" transform="translate(46.174,111.490) rotate(0.05)" stroke="#111" stroke-width="0.1" >97.6</text>
<text x="0" y="0" font-size="9.437" font-weight="bold" fill="#111" textLength="13.286" lengthAdjust="spacingAndGlyphs" transform="translate(105.156,111.558) rotate(0.05)" stroke="#111" stroke-width="0.1" >2.3</text>
<text x="0" y="0" font-size="10.363" font-weight="bold" fill="#111" textLength="5.444" lengthAdjust="spacingAndGlyphs" transform="translate(157.268,59.288) rotate(0.05)" stroke="#111" stroke-width="0.1" >3</text>
<text x="0" y="0" font-size="10.473" font-weight="bold" fill="#111" textLength="13.581" lengthAdjust="spacingAndGlyphs" transform="translate(209.381,59.134) rotate(0.05)" stroke="#111" stroke-width="0.1" >0.3</text>
<text x="0" y="0" font-size="9.681" font-weight="bold" fill="#111" textLength="20.168" lengthAdjust="spacingAndGlyphs" transform="translate(154.854,113.753) rotate(0.05)" stroke="#111" stroke-width="0.1" >95.4</text>
<text x="0" y="0" font-size="9.752" font-weight="bold" fill="#111" textLength="13.305" lengthAdjust="spacingAndGlyphs" transform="translate(207.963,115.302) rotate(0.05)" stroke="#111" stroke-width="0.1" >1.3</text>
<text x="0" y="0" font-size="10.002" font-weight="bold" fill="#111" textLength="13.780" lengthAdjust="spacingAndGlyphs" transform="translate(265.525,56.776) rotate(0.05)" stroke="#111" stroke-width="0.1" >0.8</text>
<text x="0" y="0" font-size="9.998" font-weight="bold" fill="#111" textLength="13.408" lengthAdjust="spacingAndGlyphs" transform="translate(324.892,60.899) rotate(0.05)" stroke="#111" stroke-width="0.1" >0.3</text>
<text x="0" y="0" font-size="9.554" font-weight="bold" fill="#111" textLength="18.772" lengthAdjust="spacingAndGlyphs" transform="translate(262.046,116.574) rotate(0.05)" stroke="#111" stroke-width="0.1" >94.5</text>
<text x="0" y="0" font-size="10.285" font-weight="bold" fill="#111" textLength="13.707" lengthAdjust="spacingAndGlyphs" transform="translate(324.771,114.106) rotate(0.05)" stroke="#111" stroke-width="0.1" >4.4</text>
<text x="0" y="0" font-size="13.673" font-weight="bold" fill="#111" textLength="46.053" lengthAdjust="spacingAndGlyphs" transform="translate(12.215,135.796) rotate(-89.95)" stroke="#111" stroke-width="0.1" >Calcein</text>
<text x="0" y="0" font-size="12.476" font-weight="bold" fill="#111" textLength="81.522" lengthAdjust="spacingAndGlyphs" transform="translate(28.977,155.326) rotate(0.05)" stroke="#111" stroke-width="0.1" >HIV (p24-Gag</text>
<line x1="19.5" y1="137.2" x2="19.5" y2="80" stroke="#111" stroke-width="1.4"/>
<path d="M19.5 75 L16.9 81.6 L22.1 81.6 Z" fill="#111"/>
<line x1="25.8" y1="143.1" x2="101" y2="143.1" stroke="#111" stroke-width="1.4"/>
<path d="M106.8 143.1 L100.2 140.4 L100.2 145.8 Z" fill="#111"/>
<line x1="393.85" y1="30.8" x2="393.85" y2="127.1" stroke="#777" stroke-width="1.6"/>
<line x1="391.65000000000003" y1="31.3" x2="393.85" y2="31.3" stroke="#333" stroke-width="1.2"/>
<line x1="391.65000000000003" y1="63.5" x2="393.85" y2="63.5" stroke="#333" stroke-width="1.2"/>
<line x1="391.65000000000003" y1="95.35" x2="393.85" y2="95.35" stroke="#333" stroke-width="1.2"/>
<line x1="391.65000000000003" y1="127.1" x2="393.85" y2="127.1" stroke="#333" stroke-width="1.2"/>
<text x="0" y="0" font-size="6.664" font-weight="bold" fill="#111" textLength="10.423" lengthAdjust="spacingAndGlyphs" transform="translate(382.249,33.787) rotate(0.05)" stroke="#111" stroke-width="0.15" >100</text>
<text x="0" y="0" font-size="6.177" font-weight="bold" fill="#111" textLength="6.090" lengthAdjust="spacingAndGlyphs" transform="translate(385.904,65.341) rotate(0.05)" stroke="#111" stroke-width="0.15" >50</text>
<text x="0" y="0" font-size="6.716" font-weight="bold" fill="#111" textLength="3.162" lengthAdjust="spacingAndGlyphs" transform="translate(389.245,97.729) rotate(0.05)" stroke="#111" stroke-width="0.15" >0</text>
<text x="0" y="0" font-size="6.630" font-weight="bold" fill="#111" textLength="8.477" lengthAdjust="spacingAndGlyphs" transform="translate(383.625,129.346) rotate(0.05)" stroke="#111" stroke-width="0.15" >-50</text>
<line x1="393.85" y1="95.35" x2="517.3" y2="95.35" stroke="#222" stroke-width="1.4"/>
<line x1="393.85" y1="127.1" x2="514.6" y2="127.1" stroke="#333" stroke-width="1.3"/>
<line x1="424.4" y1="127.1" x2="424.4" y2="129.3" stroke="#333" stroke-width="1.2"/>
<line x1="485.5" y1="127.1" x2="485.5" y2="129.3" stroke="#333" stroke-width="1.2"/>
<rect x="404.5" y="95.35" width="40.5" height="23.45" stroke="#222" stroke-width="1.4" fill="#fff"/>
<line x1="424.6" y1="115.3" x2="424.6" y2="122.3" stroke="#222" stroke-width="1.3"/>
<line x1="414.4" y1="115.3" x2="434.7" y2="115.3" stroke="#222" stroke-width="1.3"/>
<line x1="414.4" y1="122.3" x2="434.7" y2="122.3" stroke="#222" stroke-width="1.3"/>
<rect x="465.6" y="80.3" width="40.9" height="14.9" stroke="#222" stroke-width="1.3" fill="#9c9c9c"/>
<line x1="485.8" y1="54.4" x2="485.8" y2="105.7" stroke="#222" stroke-width="1.3"/>
<line x1="475.2" y1="54.4" x2="496.3" y2="54.4" stroke="#222" stroke-width="1.3"/>
<line x1="475.2" y1="105.7" x2="496.3" y2="105.7" stroke="#222" stroke-width="1.3"/>
<line x1="421" y1="51.4" x2="482.5" y2="51.4" stroke="#222" stroke-width="1.2"/>
<text x="0" y="0" font-size="7.749" font-weight="bold" fill="#222" textLength="27.368" lengthAdjust="spacingAndGlyphs" transform="translate(441.004,49.869) rotate(0.05)" >p= 0.04</text>
<text x="0" y="0" font-size="8.851" font-weight="bold" fill="#111" textLength="17.323" lengthAdjust="spacingAndGlyphs" transform="translate(415.783,139.503) rotate(0.05)" stroke="#111" stroke-width="0.1" >Treg</text>
<text x="0" y="0" font-size="7.833" font-weight="bold" fill="#111" textLength="43.904" lengthAdjust="spacingAndGlyphs" transform="translate(464.020,139.526) rotate(0.05)" stroke="#111" stroke-width="0.1" >Treg GAP27</text>
<text x="0" y="0" font-size="7.586" font-weight="bold" fill="#222" textLength="81.114" lengthAdjust="spacingAndGlyphs" transform="translate(372.278,118.579) rotate(-89.95)" >% of supression of HIV</text>
<text x="0" y="0" font-size="6.039" font-weight="bold" fill="#222" textLength="33.753" lengthAdjust="spacingAndGlyphs" transform="translate(379.852,93.644) rotate(-89.95)" >infection</text>
<line x1="51" y1="189.88" x2="51" y2="260.2" stroke="#555" stroke-width="1.4"/>
<line x1="48.8" y1="260.2" x2="51" y2="260.2" stroke="#333" stroke-width="1.1"/>
<text x="0" y="0" font-size="6.781" font-weight="bold" fill="#111" textLength="4.445" lengthAdjust="spacingAndGlyphs" transform="translate(43.877,262.581) rotate(0.05)" stroke="#111" stroke-width="0.25" >0</text>
<line x1="48.8" y1="248.73" x2="51" y2="248.73" stroke="#333" stroke-width="1.1"/>
<text x="0" y="0" font-size="6.724" font-weight="bold" fill="#111" textLength="16.992" lengthAdjust="spacingAndGlyphs" transform="translate(31.350,251.174) rotate(0.05)" stroke="#111" stroke-width="0.25" >2000</text>
<line x1="48.8" y1="237.26" x2="51" y2="237.26" stroke="#333" stroke-width="1.1"/>
<text x="0" y="0" font-size="7.011" font-weight="bold" fill="#111" textLength="17.057" lengthAdjust="spacingAndGlyphs" transform="translate(31.081,239.502) rotate(0.05)" stroke="#111" stroke-width="0.25" >4000</text>
<line x1="48.8" y1="225.79" x2="51" y2="225.79" stroke="#333" stroke-width="1.1"/>
<text x="0" y="0" font-size="6.885" font-weight="bold" fill="#111" textLength="16.996" lengthAdjust="spacingAndGlyphs" transform="translate(31.352,228.292) rotate(0.05)" stroke="#111" stroke-width="0.25" >6000</text>
<line x1="48.8" y1="214.32" x2="51" y2="214.32" stroke="#333" stroke-width="1.1"/>
<text x="0" y="0" font-size="6.764" font-weight="bold" fill="#111" textLength="17.147" lengthAdjust="spacingAndGlyphs" transform="translate(31.207,216.707) rotate(0.05)" stroke="#111" stroke-width="0.25" >8000</text>
<line x1="48.8" y1="202.85" x2="51" y2="202.85" stroke="#333" stroke-width="1.1"/>
<text x="0" y="0" font-size="6.635" font-weight="bold" fill="#111" textLength="21.133" lengthAdjust="spacingAndGlyphs" transform="translate(27.209,205.228) rotate(0.05)" stroke="#111" stroke-width="0.25" >10000</text>
<line x1="48.8" y1="191.38" x2="51" y2="191.38" stroke="#333" stroke-width="1.1"/>
<text x="0" y="0" font-size="6.734" font-weight="bold" fill="#111" textLength="21.536" lengthAdjust="spacingAndGlyphs" transform="translate(26.816,193.793) rotate(0.05)" stroke="#111" stroke-width="0.25" >12000</text>
<line x1="51" y1="260.2" x2="163.9" y2="260.2" stroke="#333" stroke-width="1.3"/>
<line x1="69.6" y1="260.2" x2="69.6" y2="262.59999999999997" stroke="#333" stroke-width="1.1"/>
<line x1="107.3" y1="260.2" x2="107.3" y2="262.59999999999997" stroke="#333" stroke-width="1.1"/>
<line x1="145.1" y1="260.2" x2="145.1" y2="262.59999999999997" stroke="#333" stroke-width="1.1"/>
<polyline points="69.6,220.8 107.3,209.5 145.1,215.9" fill="none" stroke="#222" stroke-width="1.1"/>
<circle cx="69.6" cy="220.8" r="1.45" fill="#111"/>
<circle cx="107.3" cy="209.5" r="1.45" fill="#111"/>
<circle cx="145.1" cy="215.9" r="1.45" fill="#111"/>
<polyline points="69.6,230.3 107.3,228 145.1,232" fill="none" stroke="#222" stroke-width="1.1"/>
<circle cx="69.6" cy="230.3" r="1.45" fill="#111"/>
<circle cx="107.3" cy="228" r="1.45" fill="#111"/>
<circle cx="145.1" cy="232" r="1.45" fill="#111"/>
<polyline points="69.6,232 107.3,226.8 145.1,230.3" fill="none" stroke="#222" stroke-width="1.1"/>
<circle cx="69.6" cy="232" r="1.45" fill="#111"/>
<circle cx="107.3" cy="226.8" r="1.45" fill="#111"/>
<circle cx="145.1" cy="230.3" r="1.45" fill="#111"/>
<polyline points="69.6,239.8 107.3,227.4 145.1,231.2" fill="none" stroke="#222" stroke-width="1.1"/>
<circle cx="69.6" cy="239.8" r="1.45" fill="#111"/>
<circle cx="107.3" cy="227.4" r="1.45" fill="#111"/>
<circle cx="145.1" cy="231.2" r="1.45" fill="#111"/>
<line x1="69.2" y1="190.4" x2="144.3" y2="190.4" stroke="#222" stroke-width="1.4"/>
<text x="0" y="0" font-size="6.690" font-weight="bold" fill="#222" textLength="22.020" lengthAdjust="spacingAndGlyphs" transform="translate(105.655,188.798) rotate(0.05)" stroke="#222" stroke-width="0.1" >p=0.19</text>
<line x1="68.0" y1="201.8" x2="106.9" y2="201.8" stroke="#222" stroke-width="1.4"/>
<text x="0" y="0" font-size="6.713" font-weight="bold" fill="#222" textLength="22.230" lengthAdjust="spacingAndGlyphs" transform="translate(75.589,201.245) rotate(0.05)" stroke="#222" stroke-width="0.1" >p=0.05</text>
<text x="0" y="0" font-size="8.138" font-weight="bold" fill="#111" textLength="18.075" lengthAdjust="spacingAndGlyphs" transform="translate(63.511,270.405) rotate(0.05)" stroke="#111" stroke-width="0.1" >Tcon</text>
<text x="0" y="0" font-size="7.678" font-weight="bold" fill="#111" textLength="25.018" lengthAdjust="spacingAndGlyphs" transform="translate(99.638,270.500) rotate(0.05)" stroke="#111" stroke-width="0.1" >Tcon +</text>
<text x="0" y="0" font-size="7.562" font-weight="bold" fill="#111" textLength="16.657" lengthAdjust="spacingAndGlyphs" transform="translate(101.849,281.111) rotate(0.05)" stroke="#111" stroke-width="0.1" >Treg</text>
<text x="0" y="0" font-size="7.845" font-weight="bold" fill="#111" textLength="25.831" lengthAdjust="spacingAndGlyphs" transform="translate(138.113,271.624) rotate(0.05)" stroke="#111" stroke-width="0.1" >Tcon +</text>
<text x="0" y="0" font-size="8.535" font-weight="bold" fill="#111" textLength="18.315" lengthAdjust="spacingAndGlyphs" transform="translate(141.091,282.371) rotate(0.05)" stroke="#111" stroke-width="0.1" >Treg</text>
<text x="0" y="0" font-size="7.855" font-weight="bold" fill="#111" textLength="25.300" lengthAdjust="spacingAndGlyphs" transform="translate(137.896,292.114) rotate(0.05)" stroke="#111" stroke-width="0.1" >GAP27</text>
<text x="0" y="0" font-size="7.191" font-weight="bold" fill="#111" textLength="34.537" lengthAdjust="spacingAndGlyphs" transform="translate(22.666,240.071) rotate(-89.95)" stroke="#111" stroke-width="0.1" >CFSE MFI</text>
<line x1="200.8" y1="189.85999999999999" x2="200.8" y2="259.4" stroke="#555" stroke-width="1.4"/>
<line x1="198.60000000000002" y1="259.4" x2="200.8" y2="259.4" stroke="#333" stroke-width="1.1"/>
<text x="0" y="0" font-size="7.095" font-weight="bold" fill="#111" textLength="4.636" lengthAdjust="spacingAndGlyphs" transform="translate(193.723,261.911) rotate(0.05)" stroke="#111" stroke-width="0.25" >0</text>
<line x1="198.60000000000002" y1="248.05999999999997" x2="200.8" y2="248.05999999999997" stroke="#333" stroke-width="1.1"/>
<text x="0" y="0" font-size="6.425" font-weight="bold" fill="#111" textLength="17.081" lengthAdjust="spacingAndGlyphs" transform="translate(181.105,250.353) rotate(0.05)" stroke="#111" stroke-width="0.25" >2000</text>
<line x1="198.60000000000002" y1="236.71999999999997" x2="200.8" y2="236.71999999999997" stroke="#333" stroke-width="1.1"/>
<text x="0" y="0" font-size="6.748" font-weight="bold" fill="#111" textLength="17.020" lengthAdjust="spacingAndGlyphs" transform="translate(181.212,238.903) rotate(0.05)" stroke="#111" stroke-width="0.25" >4000</text>
<line x1="198.60000000000002" y1="225.38" x2="200.8" y2="225.38" stroke="#333" stroke-width="1.1"/>
<text x="0" y="0" font-size="6.805" font-weight="bold" fill="#111" textLength="16.997" lengthAdjust="spacingAndGlyphs" transform="translate(181.301,227.691) rotate(0.05)" stroke="#111" stroke-width="0.25" >6000</text>
<line x1="198.60000000000002" y1="214.03999999999996" x2="200.8" y2="214.03999999999996" stroke="#333" stroke-width="1.1"/>
<text x="0" y="0" font-size="6.783" font-weight="bold" fill="#111" textLength="16.962" lengthAdjust="spacingAndGlyphs" transform="translate(181.253,216.277) rotate(0.05)" stroke="#111" stroke-width="0.25" >8000</text>
<line x1="198.60000000000002" y1="202.7" x2="200.8" y2="202.7" stroke="#333" stroke-width="1.1"/>
<text x="0" y="0" font-size="6.801" font-weight="bold" fill="#111" textLength="21.359" lengthAdjust="spacingAndGlyphs" transform="translate(176.996,205.136) rotate(0.05)" stroke="#111" stroke-width="0.25" >10000</text>
<line x1="198.60000000000002" y1="191.35999999999999" x2="200.8" y2="191.35999999999999" stroke="#333" stroke-width="1.1"/>
<text x="0" y="0" font-size="6.941" font-weight="bold" fill="#111" textLength="21.220" lengthAdjust="spacingAndGlyphs" transform="translate(177.047,193.671) rotate(0.05)" stroke="#111" stroke-width="0.25" >12000</text>
<line x1="200.8" y1="259.4" x2="313.0" y2="259.4" stroke="#333" stroke-width="1.3"/>
<line x1="219.4" y1="259.4" x2="219.4" y2="261.79999999999995" stroke="#333" stroke-width="1.1"/>
<line x1="256.5" y1="259.4" x2="256.5" y2="261.79999999999995" stroke="#333" stroke-width="1.1"/>
<line x1="293.5" y1="259.4" x2="293.5" y2="261.79999999999995" stroke="#333" stroke-width="1.1"/>
<polyline points="219.4,197 256.5,211.7 293.5,206.2" fill="none" stroke="#222" stroke-width="1.1"/>
<circle cx="219.4" cy="197" r="1.45" fill="#111"/>
<circle cx="256.5" cy="211.7" r="1.45" fill="#111"/>
<circle cx="293.5" cy="206.2" r="1.45" fill="#111"/>
<polyline points="219.4,217.6 256.5,233.3 293.5,232.7" fill="none" stroke="#222" stroke-width="1.1"/>
<circle cx="219.4" cy="217.6" r="1.45" fill="#111"/>
<circle cx="256.5" cy="233.3" r="1.45" fill="#111"/>
<circle cx="293.5" cy="232.7" r="1.45" fill="#111"/>
<polyline points="219.4,224.6 256.5,235.1 293.5,235.1" fill="none" stroke="#222" stroke-width="1.1"/>
<circle cx="219.4" cy="224.6" r="1.45" fill="#111"/>
<circle cx="256.5" cy="235.1" r="1.45" fill="#111"/>
<circle cx="293.5" cy="235.1" r="1.45" fill="#111"/>
<polyline points="219.4,233.6 256.5,239.3 293.5,240.1" fill="none" stroke="#222" stroke-width="1.1"/>
<circle cx="219.4" cy="233.6" r="1.45" fill="#111"/>
<circle cx="256.5" cy="239.3" r="1.45" fill="#111"/>
<circle cx="293.5" cy="240.1" r="1.45" fill="#111"/>
<line x1="219.0" y1="183.5" x2="294.3" y2="183.5" stroke="#222" stroke-width="1.4"/>
<text x="0" y="0" font-size="7.185" font-weight="bold" fill="#222" textLength="21.176" lengthAdjust="spacingAndGlyphs" transform="translate(253.723,180.703) rotate(0.05)" stroke="#222" stroke-width="0.1" >p=0.01</text>
<line x1="219.0" y1="193.15" x2="254.7" y2="193.15" stroke="#222" stroke-width="1.4"/>
<text x="0" y="0" font-size="6.910" font-weight="bold" fill="#222" textLength="21.098" lengthAdjust="spacingAndGlyphs" transform="translate(224.579,191.973) rotate(0.05)" stroke="#222" stroke-width="0.1" >p=0.01</text>
<text x="0" y="0" font-size="8.191" font-weight="bold" fill="#111" textLength="17.543" lengthAdjust="spacingAndGlyphs" transform="translate(213.033,269.900) rotate(0.05)" stroke="#111" stroke-width="0.1" >Tcon</text>
<text x="0" y="0" font-size="8.223" font-weight="bold" fill="#111" textLength="24.839" lengthAdjust="spacingAndGlyphs" transform="translate(248.949,269.859) rotate(0.05)" stroke="#111" stroke-width="0.1" >Tcon +</text>
<text x="0" y="0" font-size="7.848" font-weight="bold" fill="#111" textLength="16.885" lengthAdjust="spacingAndGlyphs" transform="translate(250.811,279.854) rotate(0.05)" stroke="#111" stroke-width="0.1" >Treg</text>
<text x="0" y="0" font-size="7.862" font-weight="bold" fill="#111" textLength="24.965" lengthAdjust="spacingAndGlyphs" transform="translate(285.141,270.167) rotate(0.05)" stroke="#111" stroke-width="0.1" >Tcon +</text>
<text x="0" y="0" font-size="7.485" font-weight="bold" fill="#111" textLength="16.280" lengthAdjust="spacingAndGlyphs" transform="translate(289.759,280.376) rotate(0.05)" stroke="#111" stroke-width="0.1" >Treg</text>
<text x="0" y="0" font-size="7.611" font-weight="bold" fill="#111" textLength="25.188" lengthAdjust="spacingAndGlyphs" transform="translate(284.708,290.311) rotate(0.05)" stroke="#111" stroke-width="0.1" >GAP27</text>
<text x="0" y="0" font-size="6.813" font-weight="bold" fill="#111" textLength="34.182" lengthAdjust="spacingAndGlyphs" transform="translate(173.399,239.583) rotate(-89.95)" stroke="#111" stroke-width="0.1" >Ki67 MFI</text>
<line x1="357" y1="190.10000000000002" x2="357" y2="256.1" stroke="#777" stroke-width="1.4"/>
<line x1="354.8" y1="256.1" x2="357" y2="256.1" stroke="#333" stroke-width="1.1"/>
<text x="0" y="0" font-size="6.671" font-weight="bold" fill="#111" textLength="4.445" lengthAdjust="spacingAndGlyphs" transform="translate(349.835,258.332) rotate(0.05)" stroke="#111" stroke-width="0.25" >0</text>
<line x1="354.8" y1="245.35000000000002" x2="357" y2="245.35000000000002" stroke="#333" stroke-width="1.1"/>
<text x="0" y="0" font-size="6.858" font-weight="bold" fill="#111" textLength="16.996" lengthAdjust="spacingAndGlyphs" transform="translate(337.336,247.664) rotate(0.05)" stroke="#111" stroke-width="0.25" >2000</text>
<line x1="354.8" y1="234.60000000000002" x2="357" y2="234.60000000000002" stroke="#333" stroke-width="1.1"/>
<text x="0" y="0" font-size="7.068" font-weight="bold" fill="#111" textLength="17.072" lengthAdjust="spacingAndGlyphs" transform="translate(337.172,236.928) rotate(0.05)" stroke="#111" stroke-width="0.25" >4000</text>
<line x1="354.8" y1="223.85000000000002" x2="357" y2="223.85000000000002" stroke="#333" stroke-width="1.1"/>
<text x="0" y="0" font-size="6.850" font-weight="bold" fill="#111" textLength="16.605" lengthAdjust="spacingAndGlyphs" transform="translate(337.393,226.298) rotate(0.05)" stroke="#111" stroke-width="0.25" >6000</text>
<line x1="354.8" y1="213.10000000000002" x2="357" y2="213.10000000000002" stroke="#333" stroke-width="1.1"/>
<text x="0" y="0" font-size="6.933" font-weight="bold" fill="#111" textLength="16.997" lengthAdjust="spacingAndGlyphs" transform="translate(337.273,215.353) rotate(0.05)" stroke="#111" stroke-width="0.25" >8000</text>
<line x1="354.8" y1="202.35000000000002" x2="357" y2="202.35000000000002" stroke="#333" stroke-width="1.1"/>
<text x="0" y="0" font-size="6.994" font-weight="bold" fill="#111" textLength="21.249" lengthAdjust="spacingAndGlyphs" transform="translate(333.081,204.681) rotate(0.05)" stroke="#111" stroke-width="0.25" >10000</text>
<line x1="354.8" y1="191.60000000000002" x2="357" y2="191.60000000000002" stroke="#333" stroke-width="1.1"/>
<text x="0" y="0" font-size="6.928" font-weight="bold" fill="#111" textLength="21.171" lengthAdjust="spacingAndGlyphs" transform="translate(333.085,194.053) rotate(0.05)" stroke="#111" stroke-width="0.25" >12000</text>
<line x1="357" y1="256.1" x2="475.1" y2="256.1" stroke="#333" stroke-width="1.3"/>
<line x1="376.8" y1="256.1" x2="376.8" y2="258.5" stroke="#333" stroke-width="1.1"/>
<line x1="416.1" y1="256.1" x2="416.1" y2="258.5" stroke="#333" stroke-width="1.1"/>
<line x1="455.3" y1="256.1" x2="455.3" y2="258.5" stroke="#333" stroke-width="1.1"/>
<polyline points="376.8,204.2 416.1,215.4 455.3,217.9" fill="none" stroke="#222" stroke-width="1.1"/>
<circle cx="376.8" cy="204.2" r="1.45" fill="#111"/>
<circle cx="416.1" cy="215.4" r="1.45" fill="#111"/>
<circle cx="455.3" cy="217.9" r="1.45" fill="#111"/>
<polyline points="376.8,232.2 416.1,240.2 455.3,240.8" fill="none" stroke="#222" stroke-width="1.1"/>
<circle cx="376.8" cy="232.2" r="1.45" fill="#111"/>
<circle cx="416.1" cy="240.2" r="1.45" fill="#111"/>
<circle cx="455.3" cy="240.8" r="1.45" fill="#111"/>
<polyline points="376.8,241.1 416.1,244.2 455.3,238.5" fill="none" stroke="#222" stroke-width="1.1"/>
<circle cx="376.8" cy="241.1" r="1.45" fill="#111"/>
<circle cx="416.1" cy="244.2" r="1.45" fill="#111"/>
<circle cx="455.3" cy="238.5" r="1.45" fill="#111"/>
<polyline points="376.8,246.5 416.1,249.3 455.3,247.4" fill="none" stroke="#222" stroke-width="1.1"/>
<circle cx="376.8" cy="246.5" r="1.45" fill="#111"/>
<circle cx="416.1" cy="249.3" r="1.45" fill="#111"/>
<circle cx="455.3" cy="247.4" r="1.45" fill="#111"/>
<line x1="376.5" y1="190.45" x2="454.9" y2="190.45" stroke="#222" stroke-width="1.4"/>
<text x="0" y="0" font-size="6.073" font-weight="bold" fill="#222" textLength="21.414" lengthAdjust="spacingAndGlyphs" transform="translate(412.599,187.977) rotate(0.05)" stroke="#222" stroke-width="0.1" >p=0.27</text>
<line x1="376.5" y1="199.6" x2="416" y2="199.6" stroke="#222" stroke-width="1.4"/>
<text x="0" y="0" font-size="6.801" font-weight="bold" fill="#222" textLength="22.988" lengthAdjust="spacingAndGlyphs" transform="translate(384.822,198.388) rotate(0.05)" stroke="#222" stroke-width="0.1" >p=0.06</text>
<text x="0" y="0" font-size="7.983" font-weight="bold" fill="#111" textLength="19.475" lengthAdjust="spacingAndGlyphs" transform="translate(368.967,266.032) rotate(0.05)" stroke="#111" stroke-width="0.1" >Tcon</text>
<text x="0" y="0" font-size="7.810" font-weight="bold" fill="#111" textLength="25.918" lengthAdjust="spacingAndGlyphs" transform="translate(405.711,267.142) rotate(0.05)" stroke="#111" stroke-width="0.1" >Tcon +</text>
<text x="0" y="0" font-size="8.489" font-weight="bold" fill="#111" textLength="17.126" lengthAdjust="spacingAndGlyphs" transform="translate(408.218,277.231) rotate(0.05)" stroke="#111" stroke-width="0.1" >Treg</text>
<text x="0" y="0" font-size="7.274" font-weight="bold" fill="#111" textLength="26.069" lengthAdjust="spacingAndGlyphs" transform="translate(445.371,267.100) rotate(0.05)" stroke="#111" stroke-width="0.1" >Tcon +</text>
<text x="0" y="0" font-size="8.276" font-weight="bold" fill="#111" textLength="16.850" lengthAdjust="spacingAndGlyphs" transform="translate(450.174,277.030) rotate(0.05)" stroke="#111" stroke-width="0.1" >Treg</text>
<text x="0" y="0" font-size="6.953" font-weight="bold" fill="#111" textLength="26.226" lengthAdjust="spacingAndGlyphs" transform="translate(445.109,286.576) rotate(0.05)" stroke="#111" stroke-width="0.1" >GAP27</text>
<text x="0" y="0" font-size="7.116" font-weight="normal" fill="#555" textLength="43.166" lengthAdjust="spacingAndGlyphs" transform="translate(329.247,243.484) rotate(-89.95)" stroke="#555" stroke-width="0.1" >Cyclin B MFI</text>
</g>
</svg>
</body></html>
